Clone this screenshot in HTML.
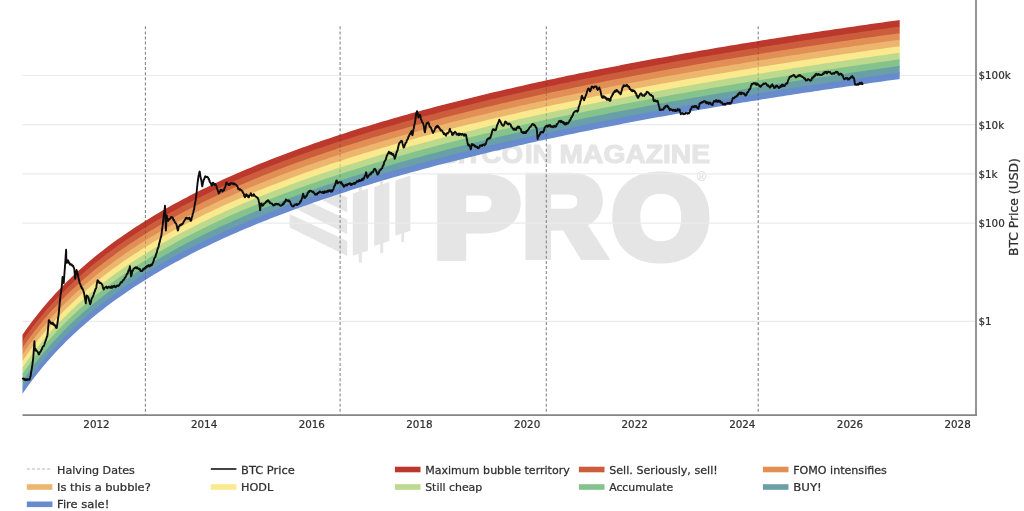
<!DOCTYPE html>
<html lang="en">
<head>
<meta charset="utf-8">
<title>Bitcoin Rainbow Price Chart</title>
<style>
html,body{margin:0;padding:0;background:#fff;width:1024px;height:511px;overflow:hidden}
svg{display:block;will-change:transform}
</style>
</head>
<body>
<svg width="1024" height="511" viewBox="0 0 1024 511">
<rect width="1024" height="511" fill="#fff"/>
<g fill="#e5e5e5" stroke="none">
<polygon points="289.7,170.6 347.2,197.6 347.2,212.4 289.7,184.0"/>
<polygon points="289.7,192.4 347.2,219.4 347.2,234.2 289.7,205.8"/>
<polygon points="289.7,214.1 347.2,241.1 347.2,255.9 289.7,227.5"/>
<polygon points="352.8,193.5 367.9,188.5 367.9,250.8 352.8,255.8"/>
<rect x="358.7" y="250.8" width="3.2" height="11.9"/>
<rect x="358.7" y="183.5" width="3.2" height="8"/>
<polygon points="374.2,186.9 389.3,181.9 389.3,241.1 374.2,246.1"/>
<rect x="380.2" y="241.1" width="3.0" height="11.9"/>
<rect x="380.2" y="176.9" width="3.0" height="8"/>
<polygon points="395.3,180.4 410.4,175.4 410.4,230.8 395.3,235.8"/>
<rect x="401.3" y="230.8" width="2.8" height="11.4"/>
</g>
<g fill="#e5e5e5" stroke="#e5e5e5" font-family="'Liberation Sans','DejaVu Sans',sans-serif" font-weight="bold" stroke-linejoin="round">
<text transform="translate(0,163.3) scale(1.06,1)" x="414.15 431.89 438.68 453.96 473.11 495.19 502.26" y="0" font-size="26.2" stroke-width="1.1">BITCOIN</text>
<text x="559.6" y="163.3" font-size="26.2" stroke-width="1.1" textLength="150.4" lengthAdjust="spacingAndGlyphs">MAGAZINE</text>
<text y="256.4" font-size="113.4" stroke-width="9.0" stroke-linejoin="miter" stroke-miterlimit="2.5"><tspan x="433.83" textLength="86.19" lengthAdjust="spacingAndGlyphs">P</tspan><tspan x="522.56" textLength="82.0" lengthAdjust="spacingAndGlyphs">R</tspan><tspan x="611.9" y="258.1" font-size="117.5" textLength="97.8" lengthAdjust="spacingAndGlyphs">O</tspan></text>
<text x="697" y="180.6" font-size="12.5" stroke-width="0.4" font-weight="normal">®</text>
</g>
<g stroke="#ebebeb" stroke-width="1.2">
<line x1="22.5" x2="976.0" y1="75.50" y2="75.50"/>
<line x1="22.5" x2="976.0" y1="124.68" y2="124.68"/>
<line x1="22.5" x2="976.0" y1="173.86" y2="173.86"/>
<line x1="22.5" x2="976.0" y1="223.04" y2="223.04"/>
<line x1="22.5" x2="976.0" y1="321.40" y2="321.40"/>
</g>
<g stroke="#888" stroke-width="1.1" stroke-dasharray="3 2.1">
<line x1="145.4" x2="145.4" y1="26.3" y2="415.0"/>
<line x1="340.1" x2="340.1" y1="26.3" y2="415.0"/>
<line x1="546.3" x2="546.3" y1="26.3" y2="415.0"/>
<line x1="758.2" x2="758.2" y1="26.3" y2="415.0"/>
</g>
<g stroke="none">
<polygon fill="#bd382c" points="22.5,334.75 26.5,329.00 30.5,323.50 34.5,318.21 38.5,313.13 42.5,308.23 46.5,303.51 50.5,298.95 54.5,294.54 58.5,290.27 62.5,286.13 66.5,282.12 70.5,278.23 74.5,274.45 78.5,270.77 82.5,267.20 86.5,263.71 90.5,260.32 94.5,257.01 98.5,253.78 102.5,250.63 106.5,247.55 110.5,244.54 114.5,241.59 118.5,238.71 122.5,235.90 126.5,233.14 130.5,230.43 134.5,227.78 138.5,225.18 142.5,222.64 146.5,220.14 150.5,217.68 154.5,215.27 158.5,212.91 162.5,210.58 166.5,208.30 170.5,206.05 174.5,203.84 178.5,201.67 182.5,199.53 186.5,197.43 190.5,195.36 194.5,193.32 198.5,191.31 202.5,189.33 206.5,187.38 210.5,185.46 214.5,183.57 218.5,181.70 222.5,179.86 226.5,178.04 230.5,176.25 234.5,174.48 238.5,172.74 242.5,171.01 246.5,169.32 250.5,167.64 254.5,165.98 258.5,164.34 262.5,162.72 266.5,161.13 270.5,159.55 274.5,157.99 278.5,156.45 282.5,154.92 286.5,153.41 290.5,151.92 294.5,150.45 298.5,148.99 302.5,147.55 306.5,146.13 310.5,144.72 314.5,143.32 318.5,141.94 322.5,140.57 326.5,139.22 330.5,137.88 334.5,136.55 338.5,135.24 342.5,133.94 346.5,132.65 350.5,131.37 354.5,130.11 358.5,128.86 362.5,127.62 366.5,126.39 370.5,125.17 374.5,123.97 378.5,122.77 382.5,121.59 386.5,120.41 390.5,119.25 394.5,118.10 398.5,116.95 402.5,115.82 406.5,114.70 410.5,113.58 414.5,112.47 418.5,111.38 422.5,110.29 426.5,109.21 430.5,108.14 434.5,107.08 438.5,106.03 442.5,104.98 446.5,103.95 450.5,102.92 454.5,101.90 458.5,100.88 462.5,99.88 466.5,98.88 470.5,97.89 474.5,96.91 478.5,95.93 482.5,94.96 486.5,94.00 490.5,93.05 494.5,92.10 498.5,91.16 502.5,90.23 506.5,89.30 510.5,88.38 514.5,87.46 518.5,86.55 522.5,85.65 526.5,84.75 530.5,83.86 534.5,82.98 538.5,82.10 542.5,81.23 546.5,80.36 550.5,79.50 554.5,78.64 558.5,77.79 562.5,76.95 566.5,76.11 570.5,75.27 574.5,74.44 578.5,73.62 582.5,72.80 586.5,71.98 590.5,71.17 594.5,70.37 598.5,69.57 602.5,68.78 606.5,67.99 610.5,67.20 614.5,66.42 618.5,65.64 622.5,64.87 626.5,64.11 630.5,63.34 634.5,62.58 638.5,61.83 642.5,61.08 646.5,60.34 650.5,59.59 654.5,58.86 658.5,58.12 662.5,57.39 666.5,56.67 670.5,55.95 674.5,55.23 678.5,54.52 682.5,53.81 686.5,53.10 690.5,52.40 694.5,51.70 698.5,51.01 702.5,50.31 706.5,49.63 710.5,48.94 714.5,48.26 718.5,47.58 722.5,46.91 726.5,46.24 730.5,45.57 734.5,44.91 738.5,44.25 742.5,43.59 746.5,42.94 750.5,42.29 754.5,41.64 758.5,41.00 762.5,40.36 766.5,39.72 770.5,39.08 774.5,38.45 778.5,37.82 782.5,37.20 786.5,36.57 790.5,35.95 794.5,35.33 798.5,34.72 802.5,34.11 806.5,33.50 810.5,32.89 814.5,32.29 818.5,31.69 822.5,31.09 826.5,30.50 830.5,29.90 834.5,29.31 838.5,28.73 842.5,28.14 846.5,27.56 850.5,26.98 854.5,26.40 858.5,25.83 862.5,25.26 866.5,24.69 870.5,24.12 874.5,23.55 878.5,22.99 882.5,22.43 886.5,21.87 890.5,21.32 894.5,20.77 898.5,20.22 899.7,20.05 899.7,27.41 898.5,27.57 894.5,28.12 890.5,28.67 886.5,29.23 882.5,29.79 878.5,30.35 874.5,30.91 870.5,31.48 866.5,32.04 862.5,32.61 858.5,33.18 854.5,33.76 850.5,34.34 846.5,34.92 842.5,35.50 838.5,36.08 834.5,36.67 830.5,37.26 826.5,37.85 822.5,38.45 818.5,39.05 814.5,39.65 810.5,40.25 806.5,40.86 802.5,41.46 798.5,42.08 794.5,42.69 790.5,43.31 786.5,43.93 782.5,44.55 778.5,45.18 774.5,45.81 770.5,46.44 766.5,47.07 762.5,47.71 758.5,48.35 754.5,49.00 750.5,49.64 746.5,50.29 742.5,50.95 738.5,51.61 734.5,52.27 730.5,52.93 726.5,53.60 722.5,54.27 718.5,54.94 714.5,55.62 710.5,56.30 706.5,56.98 702.5,57.67 698.5,58.36 694.5,59.06 690.5,59.75 686.5,60.46 682.5,61.16 678.5,61.87 674.5,62.59 670.5,63.30 666.5,64.02 662.5,64.75 658.5,65.48 654.5,66.21 650.5,66.95 646.5,67.69 642.5,68.44 638.5,69.19 634.5,69.94 630.5,70.70 626.5,71.46 622.5,72.23 618.5,73.00 614.5,73.78 610.5,74.56 606.5,75.34 602.5,76.13 598.5,76.93 594.5,77.73 590.5,78.53 586.5,79.34 582.5,80.15 578.5,80.97 574.5,81.80 570.5,82.63 566.5,83.46 562.5,84.30 558.5,85.15 554.5,86.00 550.5,86.85 546.5,87.71 542.5,88.58 538.5,89.45 534.5,90.33 530.5,91.22 526.5,92.11 522.5,93.01 518.5,93.91 514.5,94.82 510.5,95.73 506.5,96.65 502.5,97.58 498.5,98.52 494.5,99.46 490.5,100.40 486.5,101.36 482.5,102.32 478.5,103.29 474.5,104.26 470.5,105.25 466.5,106.24 462.5,107.24 458.5,108.24 454.5,109.25 450.5,110.27 446.5,111.30 442.5,112.34 438.5,113.38 434.5,114.44 430.5,115.50 426.5,116.57 422.5,117.65 418.5,118.73 414.5,119.83 410.5,120.94 406.5,122.05 402.5,123.17 398.5,124.31 394.5,125.45 390.5,126.61 386.5,127.77 382.5,128.94 378.5,130.13 374.5,131.32 370.5,132.53 366.5,133.75 362.5,134.97 358.5,136.21 354.5,137.47 350.5,138.73 346.5,140.00 342.5,141.29 338.5,142.59 334.5,143.91 330.5,145.23 326.5,146.57 322.5,147.93 318.5,149.29 314.5,150.67 310.5,152.07 306.5,153.48 302.5,154.91 298.5,156.35 294.5,157.81 290.5,159.28 286.5,160.77 282.5,162.28 278.5,163.80 274.5,165.34 270.5,166.90 266.5,168.48 262.5,170.08 258.5,171.70 254.5,173.33 250.5,174.99 246.5,176.67 242.5,178.37 238.5,180.09 234.5,181.84 230.5,183.60 226.5,185.40 222.5,187.21 218.5,189.05 214.5,190.92 210.5,192.82 206.5,194.74 202.5,196.69 198.5,198.66 194.5,200.67 190.5,202.71 186.5,204.78 182.5,206.89 178.5,209.03 174.5,211.20 170.5,213.41 166.5,215.65 162.5,217.94 158.5,220.26 154.5,222.63 150.5,225.04 146.5,227.49 142.5,229.99 138.5,232.54 134.5,235.14 130.5,237.79 126.5,240.49 122.5,243.25 118.5,246.07 114.5,248.95 110.5,251.89 106.5,254.90 102.5,257.98 98.5,261.13 94.5,264.36 90.5,267.67 86.5,271.07 82.5,274.55 78.5,278.13 74.5,281.81 70.5,285.59 66.5,289.48 62.5,293.49 58.5,297.62 54.5,301.89 50.5,306.30 46.5,310.86 42.5,315.58 38.5,320.48 34.5,325.56 30.5,330.85 26.5,336.36 22.5,342.10"/>
<polygon fill="#cc5d3c" points="22.5,341.30 26.5,335.56 30.5,330.05 34.5,324.76 38.5,319.68 42.5,314.78 46.5,310.06 50.5,305.50 54.5,301.09 58.5,296.82 62.5,292.69 66.5,288.68 70.5,284.79 74.5,281.01 78.5,277.33 82.5,273.75 86.5,270.27 90.5,266.87 94.5,263.56 98.5,260.33 102.5,257.18 106.5,254.10 110.5,251.09 114.5,248.15 118.5,245.27 122.5,242.45 126.5,239.69 130.5,236.99 134.5,234.34 138.5,231.74 142.5,229.19 146.5,226.69 150.5,224.24 154.5,221.83 158.5,219.46 162.5,217.14 166.5,214.85 170.5,212.61 174.5,210.40 178.5,208.23 182.5,206.09 186.5,203.98 190.5,201.91 194.5,199.87 198.5,197.86 202.5,195.89 206.5,193.94 210.5,192.02 214.5,190.12 218.5,188.25 222.5,186.41 226.5,184.60 230.5,182.80 234.5,181.04 238.5,179.29 242.5,177.57 246.5,175.87 250.5,174.19 254.5,172.53 258.5,170.90 262.5,169.28 266.5,167.68 270.5,166.10 274.5,164.54 278.5,163.00 282.5,161.48 286.5,159.97 290.5,158.48 294.5,157.01 298.5,155.55 302.5,154.11 306.5,152.68 310.5,151.27 314.5,149.87 318.5,148.49 322.5,147.13 326.5,145.77 330.5,144.43 334.5,143.11 338.5,141.79 342.5,140.49 346.5,139.20 350.5,137.93 354.5,136.67 358.5,135.41 362.5,134.17 366.5,132.95 370.5,131.73 374.5,130.52 378.5,129.33 382.5,128.14 386.5,126.97 390.5,125.81 394.5,124.65 398.5,123.51 402.5,122.37 406.5,121.25 410.5,120.14 414.5,119.03 418.5,117.93 422.5,116.85 426.5,115.77 430.5,114.70 434.5,113.64 438.5,112.58 442.5,111.54 446.5,110.50 450.5,109.47 454.5,108.45 458.5,107.44 462.5,106.44 466.5,105.44 470.5,104.45 474.5,103.46 478.5,102.49 482.5,101.52 486.5,100.56 490.5,99.60 494.5,98.66 498.5,97.72 502.5,96.78 506.5,95.85 510.5,94.93 514.5,94.02 518.5,93.11 522.5,92.21 526.5,91.31 530.5,90.42 534.5,89.53 538.5,88.65 542.5,87.78 546.5,86.91 550.5,86.05 554.5,85.20 558.5,84.35 562.5,83.50 566.5,82.66 570.5,81.83 574.5,81.00 578.5,80.17 582.5,79.35 586.5,78.54 590.5,77.73 594.5,76.93 598.5,76.13 602.5,75.33 606.5,74.54 610.5,73.76 614.5,72.98 618.5,72.20 622.5,71.43 626.5,70.66 630.5,69.90 634.5,69.14 638.5,68.39 642.5,67.64 646.5,66.89 650.5,66.15 654.5,65.41 658.5,64.68 662.5,63.95 666.5,63.22 670.5,62.50 674.5,61.79 678.5,61.07 682.5,60.36 686.5,59.66 690.5,58.95 694.5,58.26 698.5,57.56 702.5,56.87 706.5,56.18 710.5,55.50 714.5,54.82 718.5,54.14 722.5,53.47 726.5,52.80 730.5,52.13 734.5,51.47 738.5,50.81 742.5,50.15 746.5,49.49 750.5,48.84 754.5,48.20 758.5,47.55 762.5,46.91 766.5,46.27 770.5,45.64 774.5,45.01 778.5,44.38 782.5,43.75 786.5,43.13 790.5,42.51 794.5,41.89 798.5,41.28 802.5,40.66 806.5,40.06 810.5,39.45 814.5,38.85 818.5,38.25 822.5,37.65 826.5,37.05 830.5,36.46 834.5,35.87 838.5,35.28 842.5,34.70 846.5,34.12 850.5,33.54 854.5,32.96 858.5,32.38 862.5,31.81 866.5,31.24 870.5,30.68 874.5,30.11 878.5,29.55 882.5,28.99 886.5,28.43 890.5,27.87 894.5,27.32 898.5,26.77 899.7,26.61 899.7,33.96 898.5,34.13 894.5,34.68 890.5,35.23 886.5,35.79 882.5,36.34 878.5,36.90 874.5,37.47 870.5,38.03 866.5,38.60 862.5,39.17 858.5,39.74 854.5,40.31 850.5,40.89 846.5,41.47 842.5,42.05 838.5,42.64 834.5,43.23 830.5,43.82 826.5,44.41 822.5,45.00 818.5,45.60 814.5,46.20 810.5,46.80 806.5,47.41 802.5,48.02 798.5,48.63 794.5,49.25 790.5,49.86 786.5,50.48 782.5,51.11 778.5,51.73 774.5,52.36 770.5,52.99 766.5,53.63 762.5,54.27 758.5,54.91 754.5,55.55 750.5,56.20 746.5,56.85 742.5,57.50 738.5,58.16 734.5,58.82 730.5,59.49 726.5,60.15 722.5,60.82 718.5,61.50 714.5,62.17 710.5,62.85 706.5,63.54 702.5,64.23 698.5,64.92 694.5,65.61 690.5,66.31 686.5,67.01 682.5,67.72 678.5,68.43 674.5,69.14 670.5,69.86 666.5,70.58 662.5,71.31 658.5,72.03 654.5,72.77 650.5,73.51 646.5,74.25 642.5,74.99 638.5,75.74 634.5,76.50 630.5,77.25 626.5,78.02 622.5,78.78 618.5,79.56 614.5,80.33 610.5,81.11 606.5,81.90 602.5,82.69 598.5,83.48 594.5,84.28 590.5,85.09 586.5,85.89 582.5,86.71 578.5,87.53 574.5,88.35 570.5,89.18 566.5,90.02 562.5,90.86 558.5,91.70 554.5,92.55 550.5,93.41 546.5,94.27 542.5,95.14 538.5,96.01 534.5,96.89 530.5,97.77 526.5,98.66 522.5,99.56 518.5,100.46 514.5,101.37 510.5,102.29 506.5,103.21 502.5,104.14 498.5,105.07 494.5,106.01 490.5,106.96 486.5,107.91 482.5,108.88 478.5,109.84 474.5,110.82 470.5,111.80 466.5,112.79 462.5,113.79 458.5,114.80 454.5,115.81 450.5,116.83 446.5,117.86 442.5,118.89 438.5,119.94 434.5,120.99 430.5,122.05 426.5,123.12 422.5,124.20 418.5,125.29 414.5,126.39 410.5,127.49 406.5,128.61 402.5,129.73 398.5,130.86 394.5,132.01 390.5,133.16 386.5,134.33 382.5,135.50 378.5,136.68 374.5,137.88 370.5,139.08 366.5,140.30 362.5,141.53 358.5,142.77 354.5,144.02 350.5,145.28 346.5,146.56 342.5,147.85 338.5,149.15 334.5,150.46 330.5,151.79 326.5,153.13 322.5,154.48 318.5,155.85 314.5,157.23 310.5,158.63 306.5,160.04 302.5,161.46 298.5,162.90 294.5,164.36 290.5,165.84 286.5,167.33 282.5,168.83 278.5,170.36 274.5,171.90 270.5,173.46 266.5,175.04 262.5,176.64 258.5,178.25 254.5,179.89 250.5,181.55 246.5,183.23 242.5,184.93 238.5,186.65 234.5,188.39 230.5,190.16 226.5,191.95 222.5,193.77 218.5,195.61 214.5,197.48 210.5,199.37 206.5,201.29 202.5,203.24 198.5,205.22 194.5,207.23 190.5,209.27 186.5,211.34 182.5,213.44 178.5,215.58 174.5,217.75 170.5,219.96 166.5,222.21 162.5,224.49 158.5,226.82 154.5,229.18 150.5,231.59 146.5,234.05 142.5,236.55 138.5,239.10 134.5,241.69 130.5,244.34 126.5,247.05 122.5,249.81 118.5,252.62 114.5,255.50 110.5,258.45 106.5,261.46 102.5,264.54 98.5,267.69 94.5,270.92 90.5,274.23 86.5,277.62 82.5,281.11 78.5,284.69 74.5,288.36 70.5,292.14 66.5,296.04 62.5,300.05 58.5,304.18 54.5,308.45 50.5,312.86 46.5,317.42 42.5,322.14 38.5,327.04 34.5,332.12 30.5,337.41 26.5,342.91 22.5,348.66"/>
<polygon fill="#e28f56" points="22.5,347.86 26.5,342.11 30.5,336.61 34.5,331.32 38.5,326.24 42.5,321.34 46.5,316.62 50.5,312.06 54.5,307.65 58.5,303.38 62.5,299.25 66.5,295.24 70.5,291.34 74.5,287.56 78.5,283.89 82.5,280.31 86.5,276.82 90.5,273.43 94.5,270.12 98.5,266.89 102.5,263.74 106.5,260.66 110.5,257.65 114.5,254.70 118.5,251.82 122.5,249.01 126.5,246.25 130.5,243.54 134.5,240.89 138.5,238.30 142.5,235.75 146.5,233.25 150.5,230.79 154.5,228.38 158.5,226.02 162.5,223.69 166.5,221.41 170.5,219.16 174.5,216.95 178.5,214.78 182.5,212.64 186.5,210.54 190.5,208.47 194.5,206.43 198.5,204.42 202.5,202.44 206.5,200.49 210.5,198.57 214.5,196.68 218.5,194.81 222.5,192.97 226.5,191.15 230.5,189.36 234.5,187.59 238.5,185.85 242.5,184.13 246.5,182.43 250.5,180.75 254.5,179.09 258.5,177.45 262.5,175.84 266.5,174.24 270.5,172.66 274.5,171.10 278.5,169.56 282.5,168.03 286.5,166.53 290.5,165.04 294.5,163.56 298.5,162.10 302.5,160.66 306.5,159.24 310.5,157.83 314.5,156.43 318.5,155.05 322.5,153.68 326.5,152.33 330.5,150.99 334.5,149.66 338.5,148.35 342.5,147.05 346.5,145.76 350.5,144.48 354.5,143.22 358.5,141.97 362.5,140.73 366.5,139.50 370.5,138.28 374.5,137.08 378.5,135.88 382.5,134.70 386.5,133.53 390.5,132.36 394.5,131.21 398.5,130.06 402.5,128.93 406.5,127.81 410.5,126.69 414.5,125.59 418.5,124.49 422.5,123.40 426.5,122.32 430.5,121.25 434.5,120.19 438.5,119.14 442.5,118.09 446.5,117.06 450.5,116.03 454.5,115.01 458.5,114.00 462.5,112.99 466.5,111.99 470.5,111.00 474.5,110.02 478.5,109.04 482.5,108.08 486.5,107.11 490.5,106.16 494.5,105.21 498.5,104.27 502.5,103.34 506.5,102.41 510.5,101.49 514.5,100.57 518.5,99.66 522.5,98.76 526.5,97.86 530.5,96.97 534.5,96.09 538.5,95.21 542.5,94.34 546.5,93.47 550.5,92.61 554.5,91.75 558.5,90.90 562.5,90.06 566.5,89.22 570.5,88.38 574.5,87.55 578.5,86.73 582.5,85.91 586.5,85.09 590.5,84.29 594.5,83.48 598.5,82.68 602.5,81.89 606.5,81.10 610.5,80.31 614.5,79.53 618.5,78.76 622.5,77.98 626.5,77.22 630.5,76.45 634.5,75.70 638.5,74.94 642.5,74.19 646.5,73.45 650.5,72.71 654.5,71.97 658.5,71.23 662.5,70.51 666.5,69.78 670.5,69.06 674.5,68.34 678.5,67.63 682.5,66.92 686.5,66.21 690.5,65.51 694.5,64.81 698.5,64.12 702.5,63.43 706.5,62.74 710.5,62.05 714.5,61.37 718.5,60.70 722.5,60.02 726.5,59.35 730.5,58.69 734.5,58.02 738.5,57.36 742.5,56.70 746.5,56.05 750.5,55.40 754.5,54.75 758.5,54.11 762.5,53.47 766.5,52.83 770.5,52.19 774.5,51.56 778.5,50.93 782.5,50.31 786.5,49.68 790.5,49.06 794.5,48.45 798.5,47.83 802.5,47.22 806.5,46.61 810.5,46.00 814.5,45.40 818.5,44.80 822.5,44.20 826.5,43.61 830.5,43.02 834.5,42.43 838.5,41.84 842.5,41.25 846.5,40.67 850.5,40.09 854.5,39.51 858.5,38.94 862.5,38.37 866.5,37.80 870.5,37.23 874.5,36.67 878.5,36.10 882.5,35.54 886.5,34.99 890.5,34.43 894.5,33.88 898.5,33.33 899.7,33.16 899.7,40.52 898.5,40.68 894.5,41.23 890.5,41.79 886.5,42.34 882.5,42.90 878.5,43.46 874.5,44.02 870.5,44.59 866.5,45.15 862.5,45.72 858.5,46.30 854.5,46.87 850.5,47.45 846.5,48.03 842.5,48.61 838.5,49.19 834.5,49.78 830.5,50.37 826.5,50.96 822.5,51.56 818.5,52.16 814.5,52.76 810.5,53.36 806.5,53.97 802.5,54.58 798.5,55.19 794.5,55.80 790.5,56.42 786.5,57.04 782.5,57.66 778.5,58.29 774.5,58.92 770.5,59.55 766.5,60.18 762.5,60.82 758.5,61.46 754.5,62.11 750.5,62.76 746.5,63.41 742.5,64.06 738.5,64.72 734.5,65.38 730.5,66.04 726.5,66.71 722.5,67.38 718.5,68.05 714.5,68.73 710.5,69.41 706.5,70.09 702.5,70.78 698.5,71.47 694.5,72.17 690.5,72.87 686.5,73.57 682.5,74.27 678.5,74.98 674.5,75.70 670.5,76.41 666.5,77.14 662.5,77.86 658.5,78.59 654.5,79.32 650.5,80.06 646.5,80.80 642.5,81.55 638.5,82.30 634.5,83.05 630.5,83.81 626.5,84.57 622.5,85.34 618.5,86.11 614.5,86.89 610.5,87.67 606.5,88.45 602.5,89.24 598.5,90.04 594.5,90.84 590.5,91.64 586.5,92.45 582.5,93.26 578.5,94.08 574.5,94.91 570.5,95.74 566.5,96.57 562.5,97.41 558.5,98.26 554.5,99.11 550.5,99.96 546.5,100.83 542.5,101.69 538.5,102.57 534.5,103.44 530.5,104.33 526.5,105.22 522.5,106.12 518.5,107.02 514.5,107.93 510.5,108.84 506.5,109.76 502.5,110.69 498.5,111.63 494.5,112.57 490.5,113.52 486.5,114.47 482.5,115.43 478.5,116.40 474.5,117.38 470.5,118.36 466.5,119.35 462.5,120.35 458.5,121.35 454.5,122.36 450.5,123.38 446.5,124.41 442.5,125.45 438.5,126.49 434.5,127.55 430.5,128.61 426.5,129.68 422.5,130.76 418.5,131.84 414.5,132.94 410.5,134.05 406.5,135.16 402.5,136.29 398.5,137.42 394.5,138.56 390.5,139.72 386.5,140.88 382.5,142.05 378.5,143.24 374.5,144.43 370.5,145.64 366.5,146.86 362.5,148.09 358.5,149.33 354.5,150.58 350.5,151.84 346.5,153.12 342.5,154.40 338.5,155.70 334.5,157.02 330.5,158.34 326.5,159.68 322.5,161.04 318.5,162.40 314.5,163.79 310.5,165.18 306.5,166.59 302.5,168.02 298.5,169.46 294.5,170.92 290.5,172.39 286.5,173.88 282.5,175.39 278.5,176.91 274.5,178.45 270.5,180.02 266.5,181.59 262.5,183.19 258.5,184.81 254.5,186.45 250.5,188.10 246.5,189.78 242.5,191.48 238.5,193.20 234.5,194.95 230.5,196.72 226.5,198.51 222.5,200.32 218.5,202.17 214.5,204.03 210.5,205.93 206.5,207.85 202.5,209.80 198.5,211.78 194.5,213.78 190.5,215.82 186.5,217.89 182.5,220.00 178.5,222.14 174.5,224.31 170.5,226.52 166.5,228.76 162.5,231.05 158.5,233.37 154.5,235.74 150.5,238.15 146.5,240.60 142.5,243.10 138.5,245.65 134.5,248.25 130.5,250.90 126.5,253.60 122.5,256.36 118.5,259.18 114.5,262.06 110.5,265.00 106.5,268.01 102.5,271.09 98.5,274.25 94.5,277.48 90.5,280.79 86.5,284.18 82.5,287.66 78.5,291.24 74.5,294.92 70.5,298.70 66.5,302.59 62.5,306.60 58.5,310.74 54.5,315.00 50.5,319.41 46.5,323.97 42.5,328.69 38.5,333.59 34.5,338.68 30.5,343.96 26.5,349.47 22.5,355.21"/>
<polygon fill="#edb66e" points="22.5,354.41 26.5,348.67 30.5,343.16 34.5,337.88 38.5,332.79 42.5,327.89 46.5,323.17 50.5,318.61 54.5,314.20 58.5,309.94 62.5,305.80 66.5,301.79 70.5,297.90 74.5,294.12 78.5,290.44 82.5,286.86 86.5,283.38 90.5,279.99 94.5,276.68 98.5,273.45 102.5,270.29 106.5,267.21 110.5,264.20 114.5,261.26 118.5,258.38 122.5,255.56 126.5,252.80 130.5,250.10 134.5,247.45 138.5,244.85 142.5,242.30 146.5,239.80 150.5,237.35 154.5,234.94 158.5,232.57 162.5,230.25 166.5,227.96 170.5,225.72 174.5,223.51 178.5,221.34 182.5,219.20 186.5,217.09 190.5,215.02 194.5,212.98 198.5,210.98 202.5,209.00 206.5,207.05 210.5,205.13 214.5,203.23 218.5,201.37 222.5,199.52 226.5,197.71 230.5,195.92 234.5,194.15 238.5,192.40 242.5,190.68 246.5,188.98 250.5,187.30 254.5,185.65 258.5,184.01 262.5,182.39 266.5,180.79 270.5,179.22 274.5,177.65 278.5,176.11 282.5,174.59 286.5,173.08 290.5,171.59 294.5,170.12 298.5,168.66 302.5,167.22 306.5,165.79 310.5,164.38 314.5,162.99 318.5,161.60 322.5,160.24 326.5,158.88 330.5,157.54 334.5,156.22 338.5,154.90 342.5,153.60 346.5,152.32 350.5,151.04 354.5,149.78 358.5,148.53 362.5,147.29 366.5,146.06 370.5,144.84 374.5,143.63 378.5,142.44 382.5,141.25 386.5,140.08 390.5,138.92 394.5,137.76 398.5,136.62 402.5,135.49 406.5,134.36 410.5,133.25 414.5,132.14 418.5,131.04 422.5,129.96 426.5,128.88 430.5,127.81 434.5,126.75 438.5,125.69 442.5,124.65 446.5,123.61 450.5,122.58 454.5,121.56 458.5,120.55 462.5,119.55 466.5,118.55 470.5,117.56 474.5,116.58 478.5,115.60 482.5,114.63 486.5,113.67 490.5,112.72 494.5,111.77 498.5,110.83 502.5,109.89 506.5,108.96 510.5,108.04 514.5,107.13 518.5,106.22 522.5,105.32 526.5,104.42 530.5,103.53 534.5,102.64 538.5,101.77 542.5,100.89 546.5,100.03 550.5,99.16 554.5,98.31 558.5,97.46 562.5,96.61 566.5,95.77 570.5,94.94 574.5,94.11 578.5,93.28 582.5,92.46 586.5,91.65 590.5,90.84 594.5,90.04 598.5,89.24 602.5,88.44 606.5,87.65 610.5,86.87 614.5,86.09 618.5,85.31 622.5,84.54 626.5,83.77 630.5,83.01 634.5,82.25 638.5,81.50 642.5,80.75 646.5,80.00 650.5,79.26 654.5,78.52 658.5,77.79 662.5,77.06 666.5,76.34 670.5,75.61 674.5,74.90 678.5,74.18 682.5,73.47 686.5,72.77 690.5,72.07 694.5,71.37 698.5,70.67 702.5,69.98 706.5,69.29 710.5,68.61 714.5,67.93 718.5,67.25 722.5,66.58 726.5,65.91 730.5,65.24 734.5,64.58 738.5,63.92 742.5,63.26 746.5,62.61 750.5,61.96 754.5,61.31 758.5,60.66 762.5,60.02 766.5,59.38 770.5,58.75 774.5,58.12 778.5,57.49 782.5,56.86 786.5,56.24 790.5,55.62 794.5,55.00 798.5,54.39 802.5,53.78 806.5,53.17 810.5,52.56 814.5,51.96 818.5,51.36 822.5,50.76 826.5,50.16 830.5,49.57 834.5,48.98 838.5,48.39 842.5,47.81 846.5,47.23 850.5,46.65 854.5,46.07 858.5,45.50 862.5,44.92 866.5,44.35 870.5,43.79 874.5,43.22 878.5,42.66 882.5,42.10 886.5,41.54 890.5,40.99 894.5,40.43 898.5,39.88 899.7,39.72 899.7,47.07 898.5,47.24 894.5,47.79 890.5,48.34 886.5,48.90 882.5,49.45 878.5,50.01 874.5,50.58 870.5,51.14 866.5,51.71 862.5,52.28 858.5,52.85 854.5,53.43 850.5,54.00 846.5,54.58 842.5,55.16 838.5,55.75 834.5,56.34 830.5,56.93 826.5,57.52 822.5,58.11 818.5,58.71 814.5,59.31 810.5,59.92 806.5,60.52 802.5,61.13 798.5,61.74 794.5,62.36 790.5,62.97 786.5,63.59 782.5,64.22 778.5,64.84 774.5,65.47 770.5,66.10 766.5,66.74 762.5,67.38 758.5,68.02 754.5,68.66 750.5,69.31 746.5,69.96 742.5,70.62 738.5,71.27 734.5,71.93 730.5,72.60 726.5,73.26 722.5,73.93 718.5,74.61 714.5,75.28 710.5,75.96 706.5,76.65 702.5,77.34 698.5,78.03 694.5,78.72 690.5,79.42 686.5,80.12 682.5,80.83 678.5,81.54 674.5,82.25 670.5,82.97 666.5,83.69 662.5,84.42 658.5,85.15 654.5,85.88 650.5,86.62 646.5,87.36 642.5,88.10 638.5,88.85 634.5,89.61 630.5,90.37 626.5,91.13 622.5,91.90 618.5,92.67 614.5,93.44 610.5,94.22 606.5,95.01 602.5,95.80 598.5,96.59 594.5,97.39 590.5,98.20 586.5,99.01 582.5,99.82 578.5,100.64 574.5,101.46 570.5,102.29 566.5,103.13 562.5,103.97 558.5,104.81 554.5,105.66 550.5,106.52 546.5,107.38 542.5,108.25 538.5,109.12 534.5,110.00 530.5,110.88 526.5,111.78 522.5,112.67 518.5,113.57 514.5,114.48 510.5,115.40 506.5,116.32 502.5,117.25 498.5,118.18 494.5,119.12 490.5,120.07 486.5,121.03 482.5,121.99 478.5,122.96 474.5,123.93 470.5,124.91 466.5,125.90 462.5,126.90 458.5,127.91 454.5,128.92 450.5,129.94 446.5,130.97 442.5,132.01 438.5,133.05 434.5,134.10 430.5,135.16 426.5,136.23 422.5,137.31 418.5,138.40 414.5,139.50 410.5,140.60 406.5,141.72 402.5,142.84 398.5,143.98 394.5,145.12 390.5,146.27 386.5,147.44 382.5,148.61 378.5,149.79 374.5,150.99 370.5,152.20 366.5,153.41 362.5,154.64 358.5,155.88 354.5,157.13 350.5,158.40 346.5,159.67 342.5,160.96 338.5,162.26 334.5,163.57 330.5,164.90 326.5,166.24 322.5,167.59 318.5,168.96 314.5,170.34 310.5,171.74 306.5,173.15 302.5,174.57 298.5,176.02 294.5,177.47 290.5,178.95 286.5,180.44 282.5,181.94 278.5,183.47 274.5,185.01 270.5,186.57 266.5,188.15 262.5,189.75 258.5,191.36 254.5,193.00 250.5,194.66 246.5,196.34 242.5,198.04 238.5,199.76 234.5,201.50 230.5,203.27 226.5,205.06 222.5,206.88 218.5,208.72 214.5,210.59 210.5,212.48 206.5,214.40 202.5,216.35 198.5,218.33 194.5,220.34 190.5,222.38 186.5,224.45 182.5,226.55 178.5,228.69 174.5,230.86 170.5,233.07 166.5,235.32 162.5,237.60 158.5,239.93 154.5,242.30 150.5,244.71 146.5,247.16 142.5,249.66 138.5,252.21 134.5,254.80 130.5,257.45 126.5,260.16 122.5,262.92 118.5,265.74 114.5,268.62 110.5,271.56 106.5,274.57 102.5,277.65 98.5,280.80 94.5,284.03 90.5,287.34 86.5,290.74 82.5,294.22 78.5,297.80 74.5,301.47 70.5,305.25 66.5,309.15 62.5,313.16 58.5,317.29 54.5,321.56 50.5,325.97 46.5,330.53 42.5,335.25 38.5,340.15 34.5,345.23 30.5,350.52 26.5,356.02 22.5,361.77"/>
<polygon fill="#fbe98e" points="22.5,360.97 26.5,355.22 30.5,349.72 34.5,344.43 38.5,339.35 42.5,334.45 46.5,329.73 50.5,325.17 54.5,320.76 58.5,316.49 62.5,312.36 66.5,308.35 70.5,304.45 74.5,300.67 78.5,297.00 82.5,293.42 86.5,289.94 90.5,286.54 94.5,283.23 98.5,280.00 102.5,276.85 106.5,273.77 110.5,270.76 114.5,267.82 118.5,264.94 122.5,262.12 126.5,259.36 130.5,256.65 134.5,254.00 138.5,251.41 142.5,248.86 146.5,246.36 150.5,243.91 154.5,241.50 158.5,239.13 162.5,236.80 166.5,234.52 170.5,232.27 174.5,230.06 178.5,227.89 182.5,225.75 186.5,223.65 190.5,221.58 194.5,219.54 198.5,217.53 202.5,215.55 206.5,213.60 210.5,211.68 214.5,209.79 218.5,207.92 222.5,206.08 226.5,204.26 230.5,202.47 234.5,200.70 238.5,198.96 242.5,197.24 246.5,195.54 250.5,193.86 254.5,192.20 258.5,190.56 262.5,188.95 266.5,187.35 270.5,185.77 274.5,184.21 278.5,182.67 282.5,181.14 286.5,179.64 290.5,178.15 294.5,176.67 298.5,175.22 302.5,173.77 306.5,172.35 310.5,170.94 314.5,169.54 318.5,168.16 322.5,166.79 326.5,165.44 330.5,164.10 334.5,162.77 338.5,161.46 342.5,160.16 346.5,158.87 350.5,157.60 354.5,156.33 358.5,155.08 362.5,153.84 366.5,152.61 370.5,151.40 374.5,150.19 378.5,148.99 382.5,147.81 386.5,146.64 390.5,145.47 394.5,144.32 398.5,143.18 402.5,142.04 406.5,140.92 410.5,139.80 414.5,138.70 418.5,137.60 422.5,136.51 426.5,135.43 430.5,134.36 434.5,133.30 438.5,132.25 442.5,131.21 446.5,130.17 450.5,129.14 454.5,128.12 458.5,127.11 462.5,126.10 466.5,125.10 470.5,124.11 474.5,123.13 478.5,122.16 482.5,121.19 486.5,120.23 490.5,119.27 494.5,118.32 498.5,117.38 502.5,116.45 506.5,115.52 510.5,114.60 514.5,113.68 518.5,112.77 522.5,111.87 526.5,110.98 530.5,110.08 534.5,109.20 538.5,108.32 542.5,107.45 546.5,106.58 550.5,105.72 554.5,104.86 558.5,104.01 562.5,103.17 566.5,102.33 570.5,101.49 574.5,100.66 578.5,99.84 582.5,99.02 586.5,98.21 590.5,97.40 594.5,96.59 598.5,95.79 602.5,95.00 606.5,94.21 610.5,93.42 614.5,92.64 618.5,91.87 622.5,91.10 626.5,90.33 630.5,89.57 634.5,88.81 638.5,88.05 642.5,87.30 646.5,86.56 650.5,85.82 654.5,85.08 658.5,84.35 662.5,83.62 666.5,82.89 670.5,82.17 674.5,81.45 678.5,80.74 682.5,80.03 686.5,79.32 690.5,78.62 694.5,77.92 698.5,77.23 702.5,76.54 706.5,75.85 710.5,75.16 714.5,74.48 718.5,73.81 722.5,73.13 726.5,72.46 730.5,71.80 734.5,71.13 738.5,70.47 742.5,69.82 746.5,69.16 750.5,68.51 754.5,67.86 758.5,67.22 762.5,66.58 766.5,65.94 770.5,65.30 774.5,64.67 778.5,64.04 782.5,63.42 786.5,62.79 790.5,62.17 794.5,61.56 798.5,60.94 802.5,60.33 806.5,59.72 810.5,59.12 814.5,58.51 818.5,57.91 822.5,57.31 826.5,56.72 830.5,56.13 834.5,55.54 838.5,54.95 842.5,54.36 846.5,53.78 850.5,53.20 854.5,52.63 858.5,52.05 862.5,51.48 866.5,50.91 870.5,50.34 874.5,49.78 878.5,49.21 882.5,48.65 886.5,48.10 890.5,47.54 894.5,46.99 898.5,46.44 899.7,46.27 899.7,53.63 898.5,53.79 894.5,54.34 890.5,54.90 886.5,55.45 882.5,56.01 878.5,56.57 874.5,57.13 870.5,57.70 866.5,58.26 862.5,58.83 858.5,59.41 854.5,59.98 850.5,60.56 846.5,61.14 842.5,61.72 838.5,62.30 834.5,62.89 830.5,63.48 826.5,64.07 822.5,64.67 818.5,65.27 814.5,65.87 810.5,66.47 806.5,67.08 802.5,67.69 798.5,68.30 794.5,68.91 790.5,69.53 786.5,70.15 782.5,70.77 778.5,71.40 774.5,72.03 770.5,72.66 766.5,73.30 762.5,73.93 758.5,74.57 754.5,75.22 750.5,75.87 746.5,76.52 742.5,77.17 738.5,77.83 734.5,78.49 730.5,79.15 726.5,79.82 722.5,80.49 718.5,81.16 714.5,81.84 710.5,82.52 706.5,83.20 702.5,83.89 698.5,84.58 694.5,85.28 690.5,85.98 686.5,86.68 682.5,87.38 678.5,88.09 674.5,88.81 670.5,89.53 666.5,90.25 662.5,90.97 658.5,91.70 654.5,92.43 650.5,93.17 646.5,93.91 642.5,94.66 638.5,95.41 634.5,96.16 630.5,96.92 626.5,97.68 622.5,98.45 618.5,99.22 614.5,100.00 610.5,100.78 606.5,101.56 602.5,102.35 598.5,103.15 594.5,103.95 590.5,104.75 586.5,105.56 582.5,106.38 578.5,107.19 574.5,108.02 570.5,108.85 566.5,109.68 562.5,110.52 558.5,111.37 554.5,112.22 550.5,113.07 546.5,113.94 542.5,114.80 538.5,115.68 534.5,116.56 530.5,117.44 526.5,118.33 522.5,119.23 518.5,120.13 514.5,121.04 510.5,121.95 506.5,122.88 502.5,123.80 498.5,124.74 494.5,125.68 490.5,126.63 486.5,127.58 482.5,128.54 478.5,129.51 474.5,130.49 470.5,131.47 466.5,132.46 462.5,133.46 458.5,134.46 454.5,135.48 450.5,136.50 446.5,137.52 442.5,138.56 438.5,139.61 434.5,140.66 430.5,141.72 426.5,142.79 422.5,143.87 418.5,144.96 414.5,146.05 410.5,147.16 406.5,148.27 402.5,149.40 398.5,150.53 394.5,151.67 390.5,152.83 386.5,153.99 382.5,155.17 378.5,156.35 374.5,157.55 370.5,158.75 366.5,159.97 362.5,161.20 358.5,162.44 354.5,163.69 350.5,164.95 346.5,166.23 342.5,167.51 338.5,168.81 334.5,170.13 330.5,171.45 326.5,172.79 322.5,174.15 318.5,175.52 314.5,176.90 310.5,178.29 306.5,179.70 302.5,181.13 298.5,182.57 294.5,184.03 290.5,185.50 286.5,186.99 282.5,188.50 278.5,190.02 274.5,191.57 270.5,193.13 266.5,194.70 262.5,196.30 258.5,197.92 254.5,199.56 250.5,201.21 246.5,202.89 242.5,204.59 238.5,206.31 234.5,208.06 230.5,209.83 226.5,211.62 222.5,213.44 218.5,215.28 214.5,217.14 210.5,219.04 206.5,220.96 202.5,222.91 198.5,224.89 194.5,226.90 190.5,228.93 186.5,231.01 182.5,233.11 178.5,235.25 174.5,237.42 170.5,239.63 166.5,241.88 162.5,244.16 158.5,246.49 154.5,248.85 150.5,251.26 146.5,253.71 142.5,256.21 138.5,258.76 134.5,261.36 130.5,264.01 126.5,266.71 122.5,269.47 118.5,272.29 114.5,275.17 110.5,278.11 106.5,281.12 102.5,284.20 98.5,287.36 94.5,290.59 90.5,293.90 86.5,297.29 82.5,300.77 78.5,304.35 74.5,308.03 70.5,311.81 66.5,315.70 62.5,319.71 58.5,323.85 54.5,328.11 50.5,332.52 46.5,337.08 42.5,341.81 38.5,346.70 34.5,351.79 30.5,357.07 26.5,362.58 22.5,368.32"/>
<polygon fill="#bcd98e" points="22.5,367.52 26.5,361.78 30.5,356.27 34.5,350.99 38.5,345.90 42.5,341.01 46.5,336.28 50.5,331.72 54.5,327.31 58.5,323.05 62.5,318.91 66.5,314.90 70.5,311.01 74.5,307.23 78.5,303.55 82.5,299.97 86.5,296.49 90.5,293.10 94.5,289.79 98.5,286.56 102.5,283.40 106.5,280.32 110.5,277.31 114.5,274.37 118.5,271.49 122.5,268.67 126.5,265.91 130.5,263.21 134.5,260.56 138.5,257.96 142.5,255.41 146.5,252.91 150.5,250.46 154.5,248.05 158.5,245.69 162.5,243.36 166.5,241.08 170.5,238.83 174.5,236.62 178.5,234.45 182.5,232.31 186.5,230.21 190.5,228.13 194.5,226.10 198.5,224.09 202.5,222.11 206.5,220.16 210.5,218.24 214.5,216.34 218.5,214.48 222.5,212.64 226.5,210.82 230.5,209.03 234.5,207.26 238.5,205.51 242.5,203.79 246.5,202.09 250.5,200.41 254.5,198.76 258.5,197.12 262.5,195.50 266.5,193.90 270.5,192.33 274.5,190.77 278.5,189.22 282.5,187.70 286.5,186.19 290.5,184.70 294.5,183.23 298.5,181.77 302.5,180.33 306.5,178.90 310.5,177.49 314.5,176.10 318.5,174.72 322.5,173.35 326.5,171.99 330.5,170.65 334.5,169.33 338.5,168.01 342.5,166.71 346.5,165.43 350.5,164.15 354.5,162.89 358.5,161.64 362.5,160.40 366.5,159.17 370.5,157.95 374.5,156.75 378.5,155.55 382.5,154.37 386.5,153.19 390.5,152.03 394.5,150.87 398.5,149.73 402.5,148.60 406.5,147.47 410.5,146.36 414.5,145.25 418.5,144.16 422.5,143.07 426.5,141.99 430.5,140.92 434.5,139.86 438.5,138.81 442.5,137.76 446.5,136.72 450.5,135.70 454.5,134.68 458.5,133.66 462.5,132.66 466.5,131.66 470.5,130.67 474.5,129.69 478.5,128.71 482.5,127.74 486.5,126.78 490.5,125.83 494.5,124.88 498.5,123.94 502.5,123.00 506.5,122.08 510.5,121.15 514.5,120.24 518.5,119.33 522.5,118.43 526.5,117.53 530.5,116.64 534.5,115.76 538.5,114.88 542.5,114.00 546.5,113.14 550.5,112.27 554.5,111.42 558.5,110.57 562.5,109.72 566.5,108.88 570.5,108.05 574.5,107.22 578.5,106.39 582.5,105.58 586.5,104.76 590.5,103.95 594.5,103.15 598.5,102.35 602.5,101.55 606.5,100.76 610.5,99.98 614.5,99.20 618.5,98.42 622.5,97.65 626.5,96.88 630.5,96.12 634.5,95.36 638.5,94.61 642.5,93.86 646.5,93.11 650.5,92.37 654.5,91.63 658.5,90.90 662.5,90.17 666.5,89.45 670.5,88.73 674.5,88.01 678.5,87.29 682.5,86.58 686.5,85.88 690.5,85.18 694.5,84.48 698.5,83.78 702.5,83.09 706.5,82.40 710.5,81.72 714.5,81.04 718.5,80.36 722.5,79.69 726.5,79.02 730.5,78.35 734.5,77.69 738.5,77.03 742.5,76.37 746.5,75.72 750.5,75.07 754.5,74.42 758.5,73.77 762.5,73.13 766.5,72.50 770.5,71.86 774.5,71.23 778.5,70.60 782.5,69.97 786.5,69.35 790.5,68.73 794.5,68.11 798.5,67.50 802.5,66.89 806.5,66.28 810.5,65.67 814.5,65.07 818.5,64.47 822.5,63.87 826.5,63.27 830.5,62.68 834.5,62.09 838.5,61.50 842.5,60.92 846.5,60.34 850.5,59.76 854.5,59.18 858.5,58.61 862.5,58.03 866.5,57.46 870.5,56.90 874.5,56.33 878.5,55.77 882.5,55.21 886.5,54.65 890.5,54.10 894.5,53.54 898.5,52.99 899.7,52.83 899.7,60.18 898.5,60.35 894.5,60.90 890.5,61.45 886.5,62.01 882.5,62.57 878.5,63.13 874.5,63.69 870.5,64.25 866.5,64.82 862.5,65.39 858.5,65.96 854.5,66.54 850.5,67.11 846.5,67.69 842.5,68.28 838.5,68.86 834.5,69.45 830.5,70.04 826.5,70.63 822.5,71.23 818.5,71.82 814.5,72.42 810.5,73.03 806.5,73.63 802.5,74.24 798.5,74.85 794.5,75.47 790.5,76.09 786.5,76.71 782.5,77.33 778.5,77.95 774.5,78.58 770.5,79.22 766.5,79.85 762.5,80.49 758.5,81.13 754.5,81.77 750.5,82.42 746.5,83.07 742.5,83.73 738.5,84.38 734.5,85.04 730.5,85.71 726.5,86.37 722.5,87.04 718.5,87.72 714.5,88.40 710.5,89.08 706.5,89.76 702.5,90.45 698.5,91.14 694.5,91.83 690.5,92.53 686.5,93.23 682.5,93.94 678.5,94.65 674.5,95.36 670.5,96.08 666.5,96.80 662.5,97.53 658.5,98.26 654.5,98.99 650.5,99.73 646.5,100.47 642.5,101.21 638.5,101.96 634.5,102.72 630.5,103.48 626.5,104.24 622.5,105.01 618.5,105.78 614.5,106.55 610.5,107.33 606.5,108.12 602.5,108.91 598.5,109.70 594.5,110.50 590.5,111.31 586.5,112.12 582.5,112.93 578.5,113.75 574.5,114.57 570.5,115.40 566.5,116.24 562.5,117.08 558.5,117.92 554.5,118.77 550.5,119.63 546.5,120.49 542.5,121.36 538.5,122.23 534.5,123.11 530.5,124.00 526.5,124.89 522.5,125.78 518.5,126.69 514.5,127.59 510.5,128.51 506.5,129.43 502.5,130.36 498.5,131.29 494.5,132.23 490.5,133.18 486.5,134.14 482.5,135.10 478.5,136.07 474.5,137.04 470.5,138.03 466.5,139.02 462.5,140.01 458.5,141.02 454.5,142.03 450.5,143.05 446.5,144.08 442.5,145.12 438.5,146.16 434.5,147.21 430.5,148.28 426.5,149.35 422.5,150.42 418.5,151.51 414.5,152.61 410.5,153.71 406.5,154.83 402.5,155.95 398.5,157.09 394.5,158.23 390.5,159.38 386.5,160.55 382.5,161.72 378.5,162.91 374.5,164.10 370.5,165.31 366.5,166.52 362.5,167.75 358.5,168.99 354.5,170.24 350.5,171.51 346.5,172.78 342.5,174.07 338.5,175.37 334.5,176.68 330.5,178.01 326.5,179.35 322.5,180.70 318.5,182.07 314.5,183.45 310.5,184.85 306.5,186.26 302.5,187.69 298.5,189.13 294.5,190.58 290.5,192.06 286.5,193.55 282.5,195.06 278.5,196.58 274.5,198.12 270.5,199.68 266.5,201.26 262.5,202.86 258.5,204.48 254.5,206.11 250.5,207.77 246.5,209.45 242.5,211.15 238.5,212.87 234.5,214.61 230.5,216.38 226.5,218.17 222.5,219.99 218.5,221.83 214.5,223.70 210.5,225.59 206.5,227.51 202.5,229.46 198.5,231.44 194.5,233.45 190.5,235.49 186.5,237.56 182.5,239.67 178.5,241.80 174.5,243.98 170.5,246.18 166.5,248.43 162.5,250.72 158.5,253.04 154.5,255.41 150.5,257.82 146.5,260.27 142.5,262.77 138.5,265.32 134.5,267.92 130.5,270.57 126.5,273.27 122.5,276.03 118.5,278.85 114.5,281.73 110.5,284.67 106.5,287.68 102.5,290.76 98.5,293.91 94.5,297.14 90.5,300.45 86.5,303.85 82.5,307.33 78.5,310.91 74.5,314.58 70.5,318.37 66.5,322.26 62.5,326.27 58.5,330.40 54.5,334.67 50.5,339.08 46.5,343.64 42.5,348.36 38.5,353.26 34.5,358.34 30.5,363.63 26.5,369.14 22.5,374.88"/>
<polygon fill="#84c38b" points="22.5,374.08 26.5,368.34 30.5,362.83 34.5,357.54 38.5,352.46 42.5,347.56 46.5,342.84 50.5,338.28 54.5,333.87 58.5,329.60 62.5,325.47 66.5,321.46 70.5,317.57 74.5,313.78 78.5,310.11 82.5,306.53 86.5,303.05 90.5,299.65 94.5,296.34 98.5,293.11 102.5,289.96 106.5,286.88 110.5,283.87 114.5,280.93 118.5,278.05 122.5,275.23 126.5,272.47 130.5,269.77 134.5,267.12 138.5,264.52 142.5,261.97 146.5,259.47 150.5,257.02 154.5,254.61 158.5,252.24 162.5,249.92 166.5,247.63 170.5,245.38 174.5,243.18 178.5,241.00 182.5,238.87 186.5,236.76 190.5,234.69 194.5,232.65 198.5,230.64 202.5,228.66 206.5,226.71 210.5,224.79 214.5,222.90 218.5,221.03 222.5,219.19 226.5,217.37 230.5,215.58 234.5,213.81 238.5,212.07 242.5,210.35 246.5,208.65 250.5,206.97 254.5,205.31 258.5,203.68 262.5,202.06 266.5,200.46 270.5,198.88 274.5,197.32 278.5,195.78 282.5,194.26 286.5,192.75 290.5,191.26 294.5,189.78 298.5,188.33 302.5,186.89 306.5,185.46 310.5,184.05 314.5,182.65 318.5,181.27 322.5,179.90 326.5,178.55 330.5,177.21 334.5,175.88 338.5,174.57 342.5,173.27 346.5,171.98 350.5,170.71 354.5,169.44 358.5,168.19 362.5,166.95 366.5,165.72 370.5,164.51 374.5,163.30 378.5,162.11 382.5,160.92 386.5,159.75 390.5,158.58 394.5,157.43 398.5,156.29 402.5,155.15 406.5,154.03 410.5,152.91 414.5,151.81 418.5,150.71 422.5,149.62 426.5,148.55 430.5,147.48 434.5,146.41 438.5,145.36 442.5,144.32 446.5,143.28 450.5,142.25 454.5,141.23 458.5,140.22 462.5,139.21 466.5,138.22 470.5,137.23 474.5,136.24 478.5,135.27 482.5,134.30 486.5,133.34 490.5,132.38 494.5,131.43 498.5,130.49 502.5,129.56 506.5,128.63 510.5,127.71 514.5,126.79 518.5,125.89 522.5,124.98 526.5,124.09 530.5,123.20 534.5,122.31 538.5,121.43 542.5,120.56 546.5,119.69 550.5,118.83 554.5,117.97 558.5,117.12 562.5,116.28 566.5,115.44 570.5,114.60 574.5,113.77 578.5,112.95 582.5,112.13 586.5,111.32 590.5,110.51 594.5,109.70 598.5,108.90 602.5,108.11 606.5,107.32 610.5,106.53 614.5,105.75 618.5,104.98 622.5,104.21 626.5,103.44 630.5,102.68 634.5,101.92 638.5,101.16 642.5,100.41 646.5,99.67 650.5,98.93 654.5,98.19 658.5,97.46 662.5,96.73 666.5,96.00 670.5,95.28 674.5,94.56 678.5,93.85 682.5,93.14 686.5,92.43 690.5,91.73 694.5,91.03 698.5,90.34 702.5,89.65 706.5,88.96 710.5,88.28 714.5,87.60 718.5,86.92 722.5,86.24 726.5,85.57 730.5,84.91 734.5,84.24 738.5,83.58 742.5,82.93 746.5,82.27 750.5,81.62 754.5,80.97 758.5,80.33 762.5,79.69 766.5,79.05 770.5,78.42 774.5,77.78 778.5,77.15 782.5,76.53 786.5,75.91 790.5,75.29 794.5,74.67 798.5,74.05 802.5,73.44 806.5,72.83 810.5,72.23 814.5,71.62 818.5,71.02 822.5,70.43 826.5,69.83 830.5,69.24 834.5,68.65 838.5,68.06 842.5,67.48 846.5,66.89 850.5,66.31 854.5,65.74 858.5,65.16 862.5,64.59 866.5,64.02 870.5,63.45 874.5,62.89 878.5,62.33 882.5,61.77 886.5,61.21 890.5,60.65 894.5,60.10 898.5,59.55 899.7,59.38 899.7,66.74 898.5,66.90 894.5,67.46 890.5,68.01 886.5,68.56 882.5,69.12 878.5,69.68 874.5,70.24 870.5,70.81 866.5,71.38 862.5,71.95 858.5,72.52 854.5,73.09 850.5,73.67 846.5,74.25 842.5,74.83 838.5,75.42 834.5,76.00 830.5,76.59 826.5,77.19 822.5,77.78 818.5,78.38 814.5,78.98 810.5,79.58 806.5,80.19 802.5,80.80 798.5,81.41 794.5,82.02 790.5,82.64 786.5,83.26 782.5,83.88 778.5,84.51 774.5,85.14 770.5,85.77 766.5,86.41 762.5,87.04 758.5,87.69 754.5,88.33 750.5,88.98 746.5,89.63 742.5,90.28 738.5,90.94 734.5,91.60 730.5,92.26 726.5,92.93 722.5,93.60 718.5,94.27 714.5,94.95 710.5,95.63 706.5,96.32 702.5,97.00 698.5,97.69 694.5,98.39 690.5,99.09 686.5,99.79 682.5,100.50 678.5,101.21 674.5,101.92 670.5,102.64 666.5,103.36 662.5,104.08 658.5,104.81 654.5,105.55 650.5,106.28 646.5,107.02 642.5,107.77 638.5,108.52 634.5,109.27 630.5,110.03 626.5,110.79 622.5,111.56 618.5,112.33 614.5,113.11 610.5,113.89 606.5,114.68 602.5,115.47 598.5,116.26 594.5,117.06 590.5,117.86 586.5,118.67 582.5,119.49 578.5,120.31 574.5,121.13 570.5,121.96 566.5,122.79 562.5,123.63 558.5,124.48 554.5,125.33 550.5,126.19 546.5,127.05 542.5,127.92 538.5,128.79 534.5,129.67 530.5,130.55 526.5,131.44 522.5,132.34 518.5,133.24 514.5,134.15 510.5,135.07 506.5,135.99 502.5,136.91 498.5,137.85 494.5,138.79 490.5,139.74 486.5,140.69 482.5,141.65 478.5,142.62 474.5,143.60 470.5,144.58 466.5,145.57 462.5,146.57 458.5,147.57 454.5,148.59 450.5,149.61 446.5,150.64 442.5,151.67 438.5,152.72 434.5,153.77 430.5,154.83 426.5,155.90 422.5,156.98 418.5,158.07 414.5,159.16 410.5,160.27 406.5,161.38 402.5,162.51 398.5,163.64 394.5,164.79 390.5,165.94 386.5,167.10 382.5,168.28 378.5,169.46 374.5,170.66 370.5,171.86 366.5,173.08 362.5,174.31 358.5,175.55 354.5,176.80 350.5,178.06 346.5,179.34 342.5,180.63 338.5,181.93 334.5,183.24 330.5,184.57 326.5,185.91 322.5,187.26 318.5,188.63 314.5,190.01 310.5,191.40 306.5,192.82 302.5,194.24 298.5,195.68 294.5,197.14 290.5,198.61 286.5,200.10 282.5,201.61 278.5,203.14 274.5,204.68 270.5,206.24 266.5,207.82 262.5,209.41 258.5,211.03 254.5,212.67 250.5,214.33 246.5,216.00 242.5,217.70 238.5,219.43 234.5,221.17 230.5,222.94 226.5,224.73 222.5,226.55 218.5,228.39 214.5,230.25 210.5,232.15 206.5,234.07 202.5,236.02 198.5,238.00 194.5,240.01 190.5,242.05 186.5,244.12 182.5,246.22 178.5,248.36 174.5,250.53 170.5,252.74 166.5,254.99 162.5,257.27 158.5,259.60 154.5,261.96 150.5,264.37 146.5,266.83 142.5,269.33 138.5,271.87 134.5,274.47 130.5,277.12 126.5,279.82 122.5,282.58 118.5,285.40 114.5,288.28 110.5,291.23 106.5,294.24 102.5,297.31 98.5,300.47 94.5,303.70 90.5,307.01 86.5,310.40 82.5,313.89 78.5,317.46 74.5,321.14 70.5,324.92 66.5,328.81 62.5,332.82 58.5,336.96 54.5,341.22 50.5,345.63 46.5,350.19 42.5,354.92 38.5,359.81 34.5,364.90 30.5,370.19 26.5,375.69 22.5,381.44"/>
<polygon fill="#699fa6" points="22.5,380.64 26.5,374.89 30.5,369.39 34.5,364.10 38.5,359.01 42.5,354.12 46.5,349.39 50.5,344.83 54.5,340.42 58.5,336.16 62.5,332.02 66.5,328.01 70.5,324.12 74.5,320.34 78.5,316.66 82.5,313.09 86.5,309.60 90.5,306.21 94.5,302.90 98.5,299.67 102.5,296.51 106.5,293.44 110.5,290.43 114.5,287.48 118.5,284.60 122.5,281.78 126.5,279.02 130.5,276.32 134.5,273.67 138.5,271.07 142.5,268.53 146.5,266.03 150.5,263.57 154.5,261.16 158.5,258.80 162.5,256.47 166.5,254.19 170.5,251.94 174.5,249.73 178.5,247.56 182.5,245.42 186.5,243.32 190.5,241.25 194.5,239.21 198.5,237.20 202.5,235.22 206.5,233.27 210.5,231.35 214.5,229.45 218.5,227.59 222.5,225.75 226.5,223.93 230.5,222.14 234.5,220.37 238.5,218.63 242.5,216.90 246.5,215.20 250.5,213.53 254.5,211.87 258.5,210.23 262.5,208.61 266.5,207.02 270.5,205.44 274.5,203.88 278.5,202.34 282.5,200.81 286.5,199.30 290.5,197.81 294.5,196.34 298.5,194.88 302.5,193.44 306.5,192.02 310.5,190.60 314.5,189.21 318.5,187.83 322.5,186.46 326.5,185.11 330.5,183.77 334.5,182.44 338.5,181.13 342.5,179.83 346.5,178.54 350.5,177.26 354.5,176.00 358.5,174.75 362.5,173.51 366.5,172.28 370.5,171.06 374.5,169.86 378.5,168.66 382.5,167.48 386.5,166.30 390.5,165.14 394.5,163.99 398.5,162.84 402.5,161.71 406.5,160.58 410.5,159.47 414.5,158.36 418.5,157.27 422.5,156.18 426.5,155.10 430.5,154.03 434.5,152.97 438.5,151.92 442.5,150.87 446.5,149.84 450.5,148.81 454.5,147.79 458.5,146.77 462.5,145.77 466.5,144.77 470.5,143.78 474.5,142.80 478.5,141.82 482.5,140.85 486.5,139.89 490.5,138.94 494.5,137.99 498.5,137.05 502.5,136.11 506.5,135.19 510.5,134.27 514.5,133.35 518.5,132.44 522.5,131.54 526.5,130.64 530.5,129.75 534.5,128.87 538.5,127.99 542.5,127.12 546.5,126.25 550.5,125.39 554.5,124.53 558.5,123.68 562.5,122.83 566.5,121.99 570.5,121.16 574.5,120.33 578.5,119.51 582.5,118.69 586.5,117.87 590.5,117.06 594.5,116.26 598.5,115.46 602.5,114.67 606.5,113.88 610.5,113.09 614.5,112.31 618.5,111.53 622.5,110.76 626.5,109.99 630.5,109.23 634.5,108.47 638.5,107.72 642.5,106.97 646.5,106.22 650.5,105.48 654.5,104.75 658.5,104.01 662.5,103.28 666.5,102.56 670.5,101.84 674.5,101.12 678.5,100.41 682.5,99.70 686.5,98.99 690.5,98.29 694.5,97.59 698.5,96.89 702.5,96.20 706.5,95.52 710.5,94.83 714.5,94.15 718.5,93.47 722.5,92.80 726.5,92.13 730.5,91.46 734.5,90.80 738.5,90.14 742.5,89.48 746.5,88.83 750.5,88.18 754.5,87.53 758.5,86.89 762.5,86.24 766.5,85.61 770.5,84.97 774.5,84.34 778.5,83.71 782.5,83.08 786.5,82.46 790.5,81.84 794.5,81.22 798.5,80.61 802.5,80.00 806.5,79.39 810.5,78.78 814.5,78.18 818.5,77.58 822.5,76.98 826.5,76.39 830.5,75.79 834.5,75.20 838.5,74.62 842.5,74.03 846.5,73.45 850.5,72.87 854.5,72.29 858.5,71.72 862.5,71.15 866.5,70.58 870.5,70.01 874.5,69.44 878.5,68.88 882.5,68.32 886.5,67.76 890.5,67.21 894.5,66.66 898.5,66.10 899.7,65.94 899.7,73.30 898.5,73.46 894.5,74.01 890.5,74.56 886.5,75.12 882.5,75.68 878.5,76.24 874.5,76.80 870.5,77.36 866.5,77.93 862.5,78.50 858.5,79.07 854.5,79.65 850.5,80.22 846.5,80.80 842.5,81.39 838.5,81.97 834.5,82.56 830.5,83.15 826.5,83.74 822.5,84.34 818.5,84.93 814.5,85.53 810.5,86.14 806.5,86.74 802.5,87.35 798.5,87.96 794.5,88.58 790.5,89.20 786.5,89.82 782.5,90.44 778.5,91.07 774.5,91.69 770.5,92.33 766.5,92.96 762.5,93.60 758.5,94.24 754.5,94.89 750.5,95.53 746.5,96.18 742.5,96.84 738.5,97.49 734.5,98.15 730.5,98.82 726.5,99.49 722.5,100.16 718.5,100.83 714.5,101.51 710.5,102.19 706.5,102.87 702.5,103.56 698.5,104.25 694.5,104.94 690.5,105.64 686.5,106.35 682.5,107.05 678.5,107.76 674.5,108.47 670.5,109.19 666.5,109.91 662.5,110.64 658.5,111.37 654.5,112.10 650.5,112.84 646.5,113.58 642.5,114.33 638.5,115.08 634.5,115.83 630.5,116.59 626.5,117.35 622.5,118.12 618.5,118.89 614.5,119.66 610.5,120.45 606.5,121.23 602.5,122.02 598.5,122.82 594.5,123.61 590.5,124.42 586.5,125.23 582.5,126.04 578.5,126.86 574.5,127.69 570.5,128.52 566.5,129.35 562.5,130.19 558.5,131.03 554.5,131.89 550.5,132.74 546.5,133.60 542.5,134.47 538.5,135.34 534.5,136.22 530.5,137.11 526.5,138.00 522.5,138.89 518.5,139.80 514.5,140.71 510.5,141.62 506.5,142.54 502.5,143.47 498.5,144.40 494.5,145.35 490.5,146.29 486.5,147.25 482.5,148.21 478.5,149.18 474.5,150.15 470.5,151.14 466.5,152.13 462.5,153.12 458.5,154.13 454.5,155.14 450.5,156.16 446.5,157.19 442.5,158.23 438.5,159.27 434.5,160.33 430.5,161.39 426.5,162.46 422.5,163.54 418.5,164.62 414.5,165.72 410.5,166.82 406.5,167.94 402.5,169.06 398.5,170.20 394.5,171.34 390.5,172.49 386.5,173.66 382.5,174.83 378.5,176.02 374.5,177.21 370.5,178.42 366.5,179.64 362.5,180.86 358.5,182.10 354.5,183.35 350.5,184.62 346.5,185.89 342.5,187.18 338.5,188.48 334.5,189.79 330.5,191.12 326.5,192.46 322.5,193.81 318.5,195.18 314.5,196.56 310.5,197.96 306.5,199.37 302.5,200.80 298.5,202.24 294.5,203.70 290.5,205.17 286.5,206.66 282.5,208.17 278.5,209.69 274.5,211.23 270.5,212.79 266.5,214.37 262.5,215.97 258.5,217.59 254.5,219.22 250.5,220.88 246.5,222.56 242.5,224.26 238.5,225.98 234.5,227.73 230.5,229.49 226.5,231.29 222.5,233.10 218.5,234.94 214.5,236.81 210.5,238.70 206.5,240.63 202.5,242.57 198.5,244.55 194.5,246.56 190.5,248.60 186.5,250.67 182.5,252.78 178.5,254.91 174.5,257.09 170.5,259.30 166.5,261.54 162.5,263.83 158.5,266.15 154.5,268.52 150.5,270.93 146.5,273.38 142.5,275.88 138.5,278.43 134.5,281.03 130.5,283.68 126.5,286.38 122.5,289.14 118.5,291.96 114.5,294.84 110.5,297.78 106.5,300.79 102.5,303.87 98.5,307.02 94.5,310.25 90.5,313.56 86.5,316.96 82.5,320.44 78.5,324.02 74.5,327.70 70.5,331.48 66.5,335.37 62.5,339.38 58.5,343.51 54.5,347.78 50.5,352.19 46.5,356.75 42.5,361.47 38.5,366.37 34.5,371.45 30.5,376.74 26.5,382.25 22.5,387.99"/>
<polygon fill="#688bce" points="22.5,387.19 26.5,381.45 30.5,375.94 34.5,370.65 38.5,365.57 42.5,360.67 46.5,355.95 50.5,351.39 54.5,346.98 58.5,342.71 62.5,338.58 66.5,334.57 70.5,330.68 74.5,326.90 78.5,323.22 82.5,319.64 86.5,316.16 90.5,312.76 94.5,309.45 98.5,306.22 102.5,303.07 106.5,299.99 110.5,296.98 114.5,294.04 118.5,291.16 122.5,288.34 126.5,285.58 130.5,282.88 134.5,280.23 138.5,277.63 142.5,275.08 146.5,272.58 150.5,270.13 154.5,267.72 158.5,265.35 162.5,263.03 166.5,260.74 170.5,258.50 174.5,256.29 178.5,254.11 182.5,251.98 186.5,249.87 190.5,247.80 194.5,245.76 198.5,243.75 202.5,241.77 206.5,239.83 210.5,237.90 214.5,236.01 218.5,234.14 222.5,232.30 226.5,230.49 230.5,228.69 234.5,226.93 238.5,225.18 242.5,223.46 246.5,221.76 250.5,220.08 254.5,218.42 258.5,216.79 262.5,215.17 266.5,213.57 270.5,211.99 274.5,210.43 278.5,208.89 282.5,207.37 286.5,205.86 290.5,204.37 294.5,202.90 298.5,201.44 302.5,200.00 306.5,198.57 310.5,197.16 314.5,195.76 318.5,194.38 322.5,193.01 326.5,191.66 330.5,190.32 334.5,188.99 338.5,187.68 342.5,186.38 346.5,185.09 350.5,183.82 354.5,182.55 358.5,181.30 362.5,180.06 366.5,178.84 370.5,177.62 374.5,176.41 378.5,175.22 382.5,174.03 386.5,172.86 390.5,171.69 394.5,170.54 398.5,169.40 402.5,168.26 406.5,167.14 410.5,166.02 414.5,164.92 418.5,163.82 422.5,162.74 426.5,161.66 430.5,160.59 434.5,159.53 438.5,158.47 442.5,157.43 446.5,156.39 450.5,155.36 454.5,154.34 458.5,153.33 462.5,152.32 466.5,151.33 470.5,150.34 474.5,149.35 478.5,148.38 482.5,147.41 486.5,146.45 490.5,145.49 494.5,144.55 498.5,143.60 502.5,142.67 506.5,141.74 510.5,140.82 514.5,139.91 518.5,139.00 522.5,138.09 526.5,137.20 530.5,136.31 534.5,135.42 538.5,134.54 542.5,133.67 546.5,132.80 550.5,131.94 554.5,131.09 558.5,130.23 562.5,129.39 566.5,128.55 570.5,127.72 574.5,126.89 578.5,126.06 582.5,125.24 586.5,124.43 590.5,123.62 594.5,122.81 598.5,122.02 602.5,121.22 606.5,120.43 610.5,119.65 614.5,118.86 618.5,118.09 622.5,117.32 626.5,116.55 630.5,115.79 634.5,115.03 638.5,114.28 642.5,113.53 646.5,112.78 650.5,112.04 654.5,111.30 658.5,110.57 662.5,109.84 666.5,109.11 670.5,108.39 674.5,107.67 678.5,106.96 682.5,106.25 686.5,105.55 690.5,104.84 694.5,104.14 698.5,103.45 702.5,102.76 706.5,102.07 710.5,101.39 714.5,100.71 718.5,100.03 722.5,99.36 726.5,98.69 730.5,98.02 734.5,97.35 738.5,96.69 742.5,96.04 746.5,95.38 750.5,94.73 754.5,94.09 758.5,93.44 762.5,92.80 766.5,92.16 770.5,91.53 774.5,90.89 778.5,90.27 782.5,89.64 786.5,89.02 790.5,88.40 794.5,87.78 798.5,87.16 802.5,86.55 806.5,85.94 810.5,85.34 814.5,84.73 818.5,84.13 822.5,83.54 826.5,82.94 830.5,82.35 834.5,81.76 838.5,81.17 842.5,80.59 846.5,80.00 850.5,79.42 854.5,78.85 858.5,78.27 862.5,77.70 866.5,77.13 870.5,76.56 874.5,76.00 878.5,75.44 882.5,74.88 886.5,74.32 890.5,73.76 894.5,73.21 898.5,72.66 899.7,72.50 899.7,79.05 898.5,79.22 894.5,79.77 890.5,80.32 886.5,80.87 882.5,81.43 878.5,81.99 874.5,82.55 870.5,83.12 866.5,83.69 862.5,84.26 858.5,84.83 854.5,85.40 850.5,85.98 846.5,86.56 842.5,87.14 838.5,87.73 834.5,88.31 830.5,88.90 826.5,89.50 822.5,90.09 818.5,90.69 814.5,91.29 810.5,91.89 806.5,92.50 802.5,93.11 798.5,93.72 794.5,94.33 790.5,94.95 786.5,95.57 782.5,96.20 778.5,96.82 774.5,97.45 770.5,98.08 766.5,98.72 762.5,99.36 758.5,100.00 754.5,100.64 750.5,101.29 746.5,101.94 742.5,102.59 738.5,103.25 734.5,103.91 730.5,104.57 726.5,105.24 722.5,105.91 718.5,106.58 714.5,107.26 710.5,107.94 706.5,108.63 702.5,109.31 698.5,110.01 694.5,110.70 690.5,111.40 686.5,112.10 682.5,112.81 678.5,113.52 674.5,114.23 670.5,114.95 666.5,115.67 662.5,116.39 658.5,117.12 654.5,117.86 650.5,118.59 646.5,119.34 642.5,120.08 638.5,120.83 634.5,121.58 630.5,122.34 626.5,123.11 622.5,123.87 618.5,124.64 614.5,125.42 610.5,126.20 606.5,126.99 602.5,127.78 598.5,128.57 594.5,129.37 590.5,130.17 586.5,130.98 582.5,131.80 578.5,132.62 574.5,133.44 570.5,134.27 566.5,135.11 562.5,135.95 558.5,136.79 554.5,137.64 550.5,138.50 546.5,139.36 542.5,140.23 538.5,141.10 534.5,141.98 530.5,142.86 526.5,143.75 522.5,144.65 518.5,145.55 514.5,146.46 510.5,147.38 506.5,148.30 502.5,149.23 498.5,150.16 494.5,151.10 490.5,152.05 486.5,153.00 482.5,153.96 478.5,154.93 474.5,155.91 470.5,156.89 466.5,157.88 462.5,158.88 458.5,159.88 454.5,160.90 450.5,161.92 446.5,162.95 442.5,163.98 438.5,165.03 434.5,166.08 430.5,167.14 426.5,168.21 422.5,169.29 418.5,170.38 414.5,171.47 410.5,172.58 406.5,173.70 402.5,174.82 398.5,175.95 394.5,177.10 390.5,178.25 386.5,179.41 382.5,180.59 378.5,181.77 374.5,182.97 370.5,184.17 366.5,185.39 362.5,186.62 358.5,187.86 354.5,189.11 350.5,190.37 346.5,191.65 342.5,192.94 338.5,194.24 334.5,195.55 330.5,196.88 326.5,198.22 322.5,199.57 318.5,200.94 314.5,202.32 310.5,203.72 306.5,205.13 302.5,206.55 298.5,207.99 294.5,209.45 290.5,210.92 286.5,212.41 282.5,213.92 278.5,215.45 274.5,216.99 270.5,218.55 266.5,220.13 262.5,221.72 258.5,223.34 254.5,224.98 250.5,226.64 246.5,228.32 242.5,230.01 238.5,231.74 234.5,233.48 230.5,235.25 226.5,237.04 222.5,238.86 218.5,240.70 214.5,242.57 210.5,244.46 206.5,246.38 202.5,248.33 198.5,250.31 194.5,252.32 190.5,254.36 186.5,256.43 182.5,258.53 178.5,260.67 174.5,262.84 170.5,265.05 166.5,267.30 162.5,269.58 158.5,271.91 154.5,274.27 150.5,276.68 146.5,279.14 142.5,281.64 138.5,284.18 134.5,286.78 130.5,289.43 126.5,292.14 122.5,294.90 118.5,297.71 114.5,300.59 110.5,303.54 106.5,306.55 102.5,309.63 98.5,312.78 94.5,316.01 90.5,319.32 86.5,322.71 82.5,326.20 78.5,329.77 74.5,333.45 70.5,337.23 66.5,341.12 62.5,345.13 58.5,349.27 54.5,353.54 50.5,357.95 46.5,362.51 42.5,367.23 38.5,372.13 34.5,377.21 30.5,382.50 26.5,388.00 22.5,393.75"/>
</g>
<g stroke="#000" stroke-opacity="0.2" stroke-width="1" stroke-dasharray="3 2.1">
<line x1="145.4" x2="145.4" y1="220.82" y2="279.82" stroke-dashoffset="0.42"/>
<line x1="340.1" x2="340.1" y1="134.72" y2="193.72" stroke-dashoffset="1.02"/>
<line x1="546.3" x2="546.3" y1="80.40" y2="139.40" stroke-dashoffset="2.80"/>
<line x1="758.2" x2="758.2" y1="41.05" y2="100.05" stroke-dashoffset="4.25"/>
</g>
<polyline points="22.80,378.60 23.25,378.55 23.70,378.50 24.15,379.67 24.60,378.90 25.05,380.00 25.50,380.20 25.93,379.91 26.37,379.32 26.80,380.08 27.23,379.19 27.67,379.86 28.10,379.16 28.53,379.15 28.97,379.71 29.40,379.80 29.80,379.22 30.20,376.79 30.60,376.30 31.15,372.25 31.70,369.20 32.10,366.50 32.50,364.16 32.90,360.56 33.30,357.50 33.85,349.11 34.40,341.10 34.80,348.90 35.20,350.16 35.60,348.88 36.00,350.75 36.40,350.50 36.87,350.90 37.34,351.42 37.81,352.15 38.28,353.28 38.75,354.40 39.22,354.19 39.69,352.27 40.16,352.21 40.63,351.53 41.10,350.50 41.54,349.48 41.99,349.01 42.43,347.36 42.87,346.56 43.31,346.04 43.76,346.11 44.20,345.00 44.60,343.69 45.00,342.32 45.40,341.63 45.80,340.30 46.30,338.78 46.80,337.07 47.30,336.00 47.70,332.78 48.10,328.50 48.45,324.66 48.80,320.10 49.25,320.29 49.70,321.53 50.15,322.10 50.60,322.70 51.03,323.53 51.47,323.41 51.90,322.77 52.33,324.16 52.77,322.76 53.20,323.60 53.64,324.00 54.08,325.16 54.51,324.62 54.95,325.78 55.39,325.52 55.83,327.20 56.26,327.93 56.70,328.00 57.15,325.06 57.60,322.53 58.05,318.44 58.50,315.70 58.92,311.65 59.35,307.07 59.78,302.64 60.20,298.10 60.65,294.50 61.10,291.66 61.55,288.33 62.00,284.00 62.50,277.00 62.93,278.95 63.37,281.30 63.80,283.00 64.20,276.56 64.60,271.70 65.10,264.73 65.60,257.30 66.10,249.70 66.40,262.90 66.87,262.89 67.33,261.68 67.80,260.20 68.22,260.69 68.64,261.75 69.06,263.14 69.48,262.86 69.90,264.60 70.35,264.68 70.80,264.30 71.25,264.36 71.70,264.41 72.15,265.83 72.60,265.50 73.02,265.71 73.45,266.80 73.88,267.93 74.30,269.00 74.75,274.52 75.20,278.70 75.67,275.05 76.13,272.81 76.60,270.00 77.03,271.52 77.47,273.56 77.90,274.30 78.33,277.07 78.75,279.36 79.17,280.50 79.60,283.10 80.05,283.85 80.50,284.65 80.95,286.49 81.40,286.70 81.83,288.54 82.27,288.10 82.70,289.17 83.13,290.28 83.57,291.30 84.00,292.80 84.45,295.42 84.90,298.26 85.35,300.32 85.80,303.40 86.25,298.56 86.70,295.50 87.12,295.78 87.55,296.11 87.98,296.89 88.40,297.20 88.85,299.79 89.30,301.09 89.75,302.55 90.20,304.30 90.62,302.96 91.05,301.52 91.48,298.85 91.90,298.10 92.35,297.79 92.80,296.54 93.25,295.67 93.70,294.50 94.15,292.74 94.60,291.90 95.02,290.62 95.45,288.99 95.88,288.84 96.30,287.50 96.73,284.31 97.17,281.92 97.60,280.30 98.05,280.50 98.50,281.14 98.95,282.19 99.40,283.20 99.86,282.55 100.32,282.62 100.78,283.05 101.24,283.12 101.70,284.00 102.12,284.85 102.54,285.35 102.96,287.97 103.38,288.61 103.80,289.50 104.25,288.27 104.70,287.85 105.15,287.43 105.60,287.10 106.04,286.91 106.49,286.53 106.93,287.89 107.38,288.21 107.82,287.32 108.27,287.40 108.71,286.74 109.16,286.83 109.60,287.60 110.03,287.22 110.47,286.98 110.90,287.89 111.33,286.59 111.77,286.24 112.20,287.81 112.63,286.95 113.07,286.16 113.50,286.70 113.97,286.71 114.44,285.71 114.91,286.54 115.38,287.28 115.85,287.00 116.32,286.63 116.79,285.78 117.26,285.90 117.73,285.47 118.20,286.00 118.66,285.93 119.12,284.94 119.58,284.82 120.04,283.45 120.50,283.20 120.98,282.08 121.46,282.52 121.94,282.21 122.42,281.35 122.90,280.10 123.36,280.17 123.82,279.71 124.28,279.09 124.74,277.69 125.20,277.70 125.68,276.95 126.16,275.88 126.64,274.51 127.12,273.73 127.60,273.80 128.06,271.90 128.52,270.37 128.98,269.65 129.44,268.62 129.90,266.30 130.45,271.16 131.00,276.20 131.43,275.15 131.87,273.41 132.30,270.70 132.76,271.04 133.22,269.50 133.68,268.76 134.14,268.29 134.60,268.30 135.06,267.53 135.52,267.33 135.98,267.86 136.44,268.14 136.90,267.20 137.38,268.19 137.86,267.92 138.34,268.62 138.82,269.26 139.30,269.10 139.76,268.73 140.22,270.15 140.68,270.98 141.14,271.13 141.60,271.00 142.08,271.01 142.56,270.08 143.04,269.10 143.52,269.76 144.00,268.80 144.44,268.10 144.89,268.54 145.33,268.45 145.77,267.01 146.21,266.62 146.66,267.20 147.10,266.00 147.56,266.36 148.01,265.32 148.47,265.20 148.93,265.20 149.39,266.51 149.84,266.29 150.30,265.70 150.76,264.64 151.22,265.45 151.68,265.30 152.14,264.30 152.60,263.60 153.08,262.09 153.56,261.21 154.04,259.22 154.52,257.77 155.00,257.40 155.46,256.83 155.92,254.83 156.38,253.19 156.84,252.50 157.30,250.30 157.76,248.62 158.22,247.85 158.68,246.21 159.14,243.54 159.60,242.50 160.00,240.50 160.40,239.03 160.80,237.38 161.20,236.30 161.70,232.76 162.20,228.47 162.70,225.20 163.17,220.95 163.63,216.34 164.10,212.90 164.55,210.09 165.00,205.80 165.45,217.89 165.90,230.50 166.30,222.92 166.70,215.50 167.15,218.30 167.60,220.80 168.07,220.93 168.53,219.46 169.00,219.00 169.43,219.51 169.86,218.52 170.29,218.33 170.71,218.07 171.14,216.92 171.57,217.44 172.00,217.30 172.45,217.46 172.90,217.87 173.35,220.04 173.80,219.64 174.25,220.92 174.70,221.70 175.12,222.76 175.55,223.10 175.97,223.34 176.40,224.30 176.87,226.40 177.33,228.53 177.80,230.50 178.23,229.55 178.67,226.86 179.10,226.10 179.54,225.87 179.97,224.97 180.41,224.69 180.85,225.24 181.29,224.43 181.72,224.19 182.16,224.21 182.60,223.40 183.04,223.44 183.47,221.90 183.91,221.50 184.35,220.61 184.79,219.92 185.22,219.55 185.66,218.41 186.10,217.80 186.54,217.90 186.97,217.84 187.41,218.71 187.85,218.31 188.29,218.67 188.72,218.82 189.16,217.63 189.60,218.10 190.03,219.11 190.47,220.70 190.90,220.80 191.37,219.95 191.83,217.21 192.30,216.40 192.75,213.94 193.20,212.75 193.65,210.31 194.10,209.30 194.53,206.21 194.95,203.28 195.38,201.73 195.80,198.80 196.27,195.18 196.73,191.25 197.20,186.40 197.63,182.28 198.07,179.79 198.50,175.90 198.90,174.72 199.30,172.32 199.70,171.50 200.17,174.82 200.63,177.61 201.10,179.40 201.50,181.23 201.90,184.88 202.30,186.40 202.77,183.88 203.23,181.71 203.70,179.40 204.13,179.38 204.57,178.20 205.00,176.70 205.44,176.22 205.89,176.83 206.33,177.11 206.77,176.92 207.21,176.80 207.66,177.14 208.10,177.60 208.55,179.10 209.00,178.94 209.45,181.00 209.90,182.00 210.35,182.79 210.80,182.93 211.25,184.40 211.70,185.60 212.12,185.15 212.55,184.27 212.97,182.79 213.40,182.90 213.85,184.22 214.30,184.32 214.75,185.10 215.20,183.99 215.65,184.73 216.10,185.60 216.53,186.07 216.95,188.70 217.38,189.09 217.80,190.80 218.25,191.48 218.70,193.50 219.15,192.49 219.60,192.49 220.05,191.45 220.50,190.00 221.00,189.83 221.50,189.90 222.00,190.80 222.42,191.43 222.84,190.69 223.26,190.80 223.68,189.58 224.10,190.20 224.60,187.84 225.10,187.41 225.60,185.50 226.00,184.33 226.40,182.66 226.80,182.40 227.30,183.84 227.80,183.94 228.30,184.89 228.80,185.00 229.28,183.89 229.76,184.92 230.24,183.14 230.72,184.21 231.20,183.20 231.68,183.22 232.17,183.11 232.65,183.60 233.13,184.37 233.62,183.28 234.10,183.80 234.58,183.52 235.07,184.62 235.55,184.48 236.03,184.63 236.52,185.11 237.00,186.10 237.40,186.29 237.80,187.56 238.20,189.10 238.66,188.86 239.12,188.95 239.58,189.87 240.04,189.12 240.50,189.60 240.98,190.20 241.46,190.22 241.94,191.12 242.42,191.13 242.90,192.60 243.40,193.33 243.90,194.08 244.40,196.54 244.90,197.30 245.40,196.39 245.90,194.74 246.40,194.30 246.88,194.85 247.36,196.28 247.84,195.39 248.32,197.27 248.80,197.30 249.30,196.15 249.80,195.24 250.30,194.83 250.80,193.20 251.35,194.31 251.90,195.80 252.32,195.51 252.74,195.54 253.16,195.77 253.58,194.32 254.00,194.30 254.48,195.50 254.96,195.87 255.44,196.34 255.92,196.53 256.40,197.30 256.82,197.45 257.25,197.35 257.68,197.91 258.10,199.00 258.50,199.59 258.90,202.17 259.30,203.10 259.70,206.21 260.10,210.20 260.60,206.34 261.10,203.70 261.53,203.40 261.95,205.21 262.38,205.72 262.80,205.50 263.28,205.33 263.76,204.15 264.24,203.60 264.72,203.21 265.20,203.10 265.68,202.54 266.17,201.52 266.65,201.55 267.13,200.74 267.62,201.51 268.10,200.20 268.58,201.63 269.06,201.44 269.54,201.48 270.02,203.36 270.50,203.10 270.98,203.16 271.47,203.64 271.95,203.40 272.43,204.49 272.92,205.05 273.40,205.50 273.88,205.30 274.37,204.56 274.85,204.91 275.33,203.81 275.82,204.08 276.30,204.30 276.77,203.68 277.24,204.36 277.71,203.84 278.18,203.92 278.65,204.55 279.12,204.54 279.59,205.29 280.06,205.31 280.53,205.83 281.00,205.50 281.43,205.44 281.86,205.20 282.29,205.15 282.71,203.93 283.14,203.47 283.57,204.32 284.00,203.10 284.46,201.77 284.92,202.10 285.38,201.26 285.84,199.48 286.30,199.60 286.74,200.43 287.18,200.76 287.61,200.50 288.05,200.92 288.49,201.29 288.93,200.30 289.36,201.22 289.80,201.40 290.28,202.35 290.76,203.88 291.24,204.77 291.72,205.75 292.20,206.10 292.66,206.12 293.11,206.54 293.57,206.03 294.02,205.91 294.48,204.95 294.93,204.46 295.39,204.51 295.84,204.78 296.30,204.90 296.74,203.96 297.18,205.05 297.61,204.33 298.05,204.23 298.49,204.00 298.93,203.88 299.36,203.31 299.80,203.10 300.28,201.17 300.76,201.56 301.24,200.43 301.72,198.95 302.20,197.90 302.65,195.91 303.10,193.80 303.50,195.45 303.90,195.75 304.30,197.90 304.80,198.03 305.30,196.85 305.80,196.23 306.30,196.70 306.76,195.22 307.22,194.99 307.68,192.99 308.14,192.89 308.60,191.40 309.05,192.06 309.50,190.99 309.95,190.59 310.40,190.60 310.82,190.74 311.24,191.29 311.66,191.62 312.08,191.53 312.50,191.50 312.94,192.30 313.38,191.82 313.82,192.49 314.26,193.22 314.70,194.20 315.16,194.72 315.62,194.01 316.08,194.56 316.54,193.64 317.00,194.60 317.48,193.21 317.96,192.98 318.44,193.11 318.92,192.55 319.40,191.60 319.86,192.12 320.32,191.62 320.78,192.23 321.24,192.34 321.70,192.60 322.15,192.45 322.60,191.74 323.05,193.05 323.50,191.71 323.95,193.02 324.40,192.86 324.85,191.12 325.30,191.90 325.74,191.68 326.18,192.18 326.61,192.29 327.05,191.21 327.49,190.73 327.93,190.48 328.36,191.65 328.80,190.70 329.24,190.23 329.68,190.95 330.11,190.21 330.55,190.94 330.99,191.76 331.43,190.34 331.86,191.63 332.30,191.10 332.76,190.06 333.22,189.68 333.68,188.29 334.14,186.38 334.60,185.80 335.04,185.46 335.48,183.66 335.92,181.76 336.36,180.67 336.80,180.50 337.20,181.94 337.60,183.40 338.06,183.09 338.52,182.60 338.98,182.09 339.44,182.24 339.90,182.30 340.38,182.25 340.86,183.47 341.34,182.24 341.82,183.87 342.30,183.70 342.70,185.21 343.10,184.82 343.50,186.40 343.93,186.87 344.35,186.18 344.77,186.22 345.20,185.20 345.64,184.67 346.07,184.67 346.51,184.56 346.95,185.50 347.39,184.61 347.82,184.05 348.26,184.02 348.70,184.00 349.15,183.65 349.60,183.29 350.05,183.43 350.50,184.80 350.95,183.86 351.40,185.08 351.85,183.90 352.30,184.40 352.78,183.71 353.27,183.89 353.75,183.04 354.23,183.11 354.72,183.89 355.20,182.80 355.65,183.07 356.10,182.51 356.55,181.76 357.00,181.10 357.44,181.77 357.88,181.74 358.31,180.96 358.75,181.20 359.19,179.91 359.62,181.07 360.06,180.49 360.50,180.50 360.94,180.73 361.38,180.31 361.81,179.44 362.25,178.79 362.69,180.14 363.12,178.48 363.56,178.87 364.00,178.70 364.42,177.14 364.84,175.78 365.26,175.29 365.68,174.44 366.10,172.30 366.50,173.70 366.90,176.25 367.30,177.80 367.73,176.91 368.17,176.84 368.60,176.01 369.03,175.07 369.47,174.52 369.90,174.60 370.36,173.61 370.82,174.41 371.28,173.21 371.74,172.26 372.20,172.30 372.63,172.45 373.07,172.03 373.50,170.46 373.93,169.32 374.37,168.83 374.80,168.80 375.25,169.03 375.70,170.45 376.15,170.96 376.60,172.20 377.05,173.20 377.50,174.60 377.96,173.91 378.42,173.66 378.88,172.59 379.34,171.16 379.80,170.50 380.28,169.88 380.76,169.62 381.24,168.90 381.72,168.37 382.20,168.20 382.62,166.24 383.05,165.45 383.47,165.52 383.90,163.50 384.38,161.65 384.86,161.15 385.34,160.19 385.82,159.43 386.30,157.60 386.73,156.11 387.17,155.22 387.60,154.20 388.03,153.49 388.47,152.59 388.90,151.70 389.32,152.94 389.74,153.17 390.16,153.63 390.58,152.52 391.00,153.80 391.46,153.02 391.92,154.30 392.38,154.69 392.84,153.99 393.30,154.10 393.77,155.82 394.23,156.33 394.70,158.80 395.15,157.00 395.60,156.37 396.05,154.59 396.50,152.40 397.00,151.64 397.50,150.45 398.00,148.20 398.40,146.28 398.80,144.56 399.20,143.80 399.70,142.43 400.20,142.34 400.70,141.88 401.20,140.80 401.65,141.79 402.10,141.20 402.60,143.73 403.10,145.73 403.60,147.60 404.06,147.12 404.52,145.60 404.98,144.81 405.44,142.93 405.90,142.80 406.40,142.21 406.90,140.12 407.40,139.50 407.95,138.71 408.50,136.40 408.95,136.06 409.40,134.85 409.85,133.93 410.30,134.00 410.85,132.10 411.40,131.10 411.90,133.40 412.40,135.20 412.87,133.22 413.33,129.84 413.80,128.20 414.27,125.06 414.73,123.51 415.20,121.10 415.65,117.75 416.10,114.10 416.60,112.45 417.10,111.20 417.57,112.84 418.03,115.65 418.50,117.60 419.00,115.75 419.50,115.31 420.00,114.70 420.47,116.40 420.93,119.06 421.40,120.00 421.85,121.14 422.30,122.44 422.75,122.58 423.20,123.50 423.62,125.22 424.05,127.44 424.47,130.93 424.90,132.30 425.30,130.10 425.70,126.82 426.10,124.60 426.60,123.16 427.10,123.45 427.60,123.19 428.10,122.30 428.52,123.10 428.94,123.74 429.36,125.42 429.78,126.83 430.20,127.00 430.68,127.49 431.17,128.13 431.65,129.66 432.13,130.79 432.62,132.25 433.10,132.90 433.58,131.30 434.06,131.31 434.54,130.15 435.02,128.67 435.50,127.60 436.00,126.62 436.50,127.55 437.00,125.91 437.50,125.80 437.95,126.96 438.40,126.48 438.85,127.05 439.30,128.60 439.75,128.35 440.20,129.30 440.66,130.59 441.12,130.25 441.58,130.18 442.04,130.72 442.50,131.70 442.93,132.05 443.36,133.00 443.79,134.01 444.21,133.06 444.64,134.01 445.07,134.18 445.50,135.20 445.96,135.71 446.42,133.88 446.88,133.37 447.34,133.05 447.80,133.50 448.22,132.37 448.64,132.34 449.06,131.37 449.48,130.16 449.90,128.80 450.33,130.73 450.77,131.64 451.20,131.59 451.63,132.37 452.07,134.75 452.50,135.00 452.93,134.89 453.37,133.06 453.80,133.65 454.23,132.58 454.67,132.02 455.10,131.70 455.60,132.36 456.10,133.04 456.60,134.60 457.06,133.64 457.51,134.07 457.97,134.13 458.42,135.15 458.88,133.59 459.33,135.04 459.79,133.61 460.24,133.81 460.70,134.00 461.13,134.72 461.56,134.87 461.99,134.31 462.41,133.76 462.84,134.67 463.27,134.63 463.70,135.00 464.12,135.68 464.54,134.29 464.96,134.52 465.38,135.39 465.80,134.60 466.30,136.10 466.80,139.30 467.20,140.91 467.60,143.39 468.00,144.60 468.50,145.48 469.00,144.57 469.50,145.80 469.90,146.13 470.30,147.35 470.70,149.30 471.10,148.29 471.50,145.33 471.90,144.00 472.36,144.69 472.82,145.20 473.28,144.43 473.74,144.55 474.20,145.20 474.64,146.39 475.07,146.14 475.51,145.86 475.95,147.04 476.39,146.68 476.82,146.97 477.26,146.84 477.70,148.10 478.15,148.20 478.60,148.12 479.05,147.25 479.50,147.45 479.95,145.43 480.40,145.45 480.85,145.52 481.30,145.20 481.76,145.96 482.21,145.88 482.67,144.80 483.12,144.49 483.58,144.74 484.03,144.79 484.49,145.50 484.94,144.10 485.40,144.60 485.80,143.84 486.20,142.43 486.60,141.28 487.00,139.40 487.44,139.68 487.88,139.17 488.31,138.45 488.75,138.23 489.19,138.09 489.62,138.63 490.06,137.15 490.50,137.70 491.00,135.33 491.50,134.51 492.00,131.77 492.50,130.40 492.96,129.44 493.43,129.21 493.89,129.97 494.35,129.39 494.81,130.39 495.27,130.04 495.74,130.05 496.20,129.00 496.62,127.28 497.05,125.65 497.47,124.37 497.90,123.80 498.37,122.40 498.83,121.38 499.30,119.60 499.80,120.50 500.30,121.12 500.80,122.60 501.25,123.18 501.70,124.27 502.15,125.09 502.60,125.50 503.07,125.75 503.53,125.72 504.00,124.90 504.50,124.03 505.00,121.88 505.50,121.40 505.95,122.61 506.40,122.23 506.85,123.32 507.30,123.80 507.78,123.65 508.27,124.40 508.75,123.51 509.23,123.68 509.72,123.76 510.20,124.30 510.68,124.52 511.16,126.67 511.64,126.96 512.12,127.35 512.60,128.50 513.06,128.47 513.51,129.70 513.97,128.98 514.43,128.65 514.89,129.84 515.34,129.72 515.80,129.60 516.22,129.86 516.64,127.64 517.06,127.69 517.48,127.69 517.90,126.50 518.33,127.46 518.75,127.95 519.17,126.72 519.60,127.90 520.08,128.35 520.56,128.85 521.04,129.80 521.52,132.03 522.00,132.00 522.44,132.22 522.88,132.92 523.31,132.00 523.75,132.96 524.19,132.28 524.62,132.02 525.06,133.02 525.50,132.60 525.98,132.90 526.47,130.89 526.95,131.27 527.43,130.82 527.92,129.59 528.40,129.60 528.83,128.78 529.26,127.78 529.69,127.31 530.11,126.82 530.54,126.85 530.97,126.36 531.40,125.50 531.90,124.67 532.40,124.02 532.90,124.29 533.40,124.30 533.86,125.14 534.31,124.76 534.77,125.50 535.23,125.82 535.69,127.40 536.14,127.47 536.60,127.90 537.10,132.66 537.60,139.00 538.07,137.12 538.53,136.48 539.00,135.50 539.46,134.89 539.92,134.35 540.38,132.66 540.84,132.09 541.30,132.00 541.75,132.50 542.20,132.14 542.65,132.06 543.10,132.60 543.55,130.93 544.00,130.77 544.45,128.29 544.90,127.30 545.33,127.04 545.75,126.29 546.17,126.02 546.60,125.80 547.03,126.46 547.46,126.69 547.89,125.55 548.31,125.25 548.74,126.21 549.17,125.27 549.60,125.80 550.08,125.03 550.57,126.76 551.05,126.01 551.53,126.84 552.02,126.21 552.50,126.50 552.98,127.22 553.47,126.50 553.95,125.99 554.43,125.76 554.92,126.76 555.40,126.70 555.82,126.37 556.24,126.28 556.66,124.22 557.08,124.60 557.50,123.80 558.00,122.89 558.50,122.46 559.00,121.14 559.50,121.10 559.93,120.81 560.36,121.34 560.79,122.17 561.21,120.80 561.64,121.58 562.07,122.25 562.50,121.80 562.96,123.04 563.42,122.06 563.88,122.33 564.34,124.20 564.80,123.80 565.28,124.56 565.77,123.57 566.25,122.70 566.73,124.17 567.22,123.10 567.70,123.20 568.18,123.33 568.66,122.22 569.14,121.98 569.62,120.19 570.10,120.20 570.56,119.77 571.02,117.82 571.48,117.21 571.94,117.06 572.40,115.50 572.88,115.27 573.36,113.29 573.84,112.53 574.32,112.04 574.80,111.40 575.28,111.43 575.77,111.19 576.25,110.72 576.73,110.94 577.22,111.80 577.70,111.40 578.20,110.25 578.70,106.84 579.20,105.80 579.60,104.61 580.00,103.66 580.40,101.07 580.80,100.60 581.20,99.61 581.60,96.71 582.00,95.80 582.42,96.86 582.84,97.65 583.26,98.67 583.68,98.97 584.10,100.20 584.52,98.88 584.95,98.00 585.38,96.54 585.80,95.50 586.25,94.46 586.70,92.75 587.15,91.41 587.60,90.20 588.00,88.78 588.40,89.28 588.80,88.50 589.20,89.45 589.60,89.96 590.00,91.40 590.42,90.70 590.85,89.55 591.28,87.80 591.70,86.70 592.15,86.42 592.60,87.25 593.05,86.89 593.50,87.90 593.93,86.98 594.37,87.28 594.80,86.42 595.23,86.80 595.67,86.67 596.10,86.40 596.60,86.74 597.10,88.98 597.60,89.90 598.02,88.55 598.45,89.12 598.88,88.60 599.30,87.50 599.80,89.22 600.30,90.10 600.80,92.60 601.35,94.96 601.90,97.30 602.35,96.95 602.80,97.84 603.25,96.25 603.70,97.41 604.15,97.53 604.60,96.50 605.05,97.54 605.50,98.32 605.95,97.82 606.40,99.00 606.83,99.74 607.25,98.74 607.67,99.45 608.10,98.50 608.60,99.82 609.10,99.05 609.60,100.74 610.10,100.80 610.50,100.40 610.90,97.67 611.30,97.01 611.70,96.10 612.16,95.74 612.62,93.85 613.08,94.35 613.54,92.41 614.00,92.00 614.48,92.27 614.97,90.76 615.45,91.10 615.93,91.56 616.42,89.97 616.90,90.20 617.35,90.37 617.80,91.41 618.25,91.67 618.70,92.60 619.15,92.19 619.60,92.88 620.05,93.27 620.50,94.30 620.92,93.64 621.35,91.72 621.78,90.66 622.20,88.50 622.65,87.08 623.10,87.36 623.55,85.33 624.00,85.20 624.47,85.56 624.93,86.05 625.40,86.10 625.90,85.38 626.40,85.84 626.90,84.70 627.35,85.30 627.80,85.84 628.25,86.89 628.70,86.70 629.16,86.69 629.62,88.99 630.08,89.03 630.54,89.31 631.00,90.20 631.43,90.79 631.86,89.89 632.29,91.25 632.71,90.57 633.14,90.23 633.57,91.02 634.00,90.60 634.42,91.15 634.85,91.32 635.28,92.99 635.70,93.20 636.12,93.27 636.54,95.54 636.96,95.40 637.38,96.97 637.80,97.60 638.27,97.87 638.73,96.55 639.20,95.80 639.60,95.43 640.00,94.13 640.40,93.80 640.88,93.30 641.36,93.76 641.84,94.37 642.32,95.61 642.80,95.80 643.26,95.50 643.72,95.46 644.18,95.97 644.64,94.42 645.10,94.90 645.58,93.83 646.06,94.02 646.54,92.30 647.02,91.68 647.50,92.00 647.96,92.26 648.42,92.33 648.88,93.30 649.34,93.58 649.80,94.60 650.28,95.00 650.77,95.26 651.25,94.82 651.73,95.82 652.22,95.80 652.70,96.10 653.10,97.14 653.50,100.29 653.90,101.20 654.36,100.69 654.83,100.47 655.29,100.32 655.75,101.25 656.21,101.62 656.67,101.41 657.14,100.67 657.60,100.80 658.15,102.58 658.70,105.20 659.25,106.72 659.80,110.00 660.28,110.16 660.77,109.91 661.25,109.43 661.73,109.86 662.22,109.40 662.70,109.40 663.16,109.71 663.62,108.86 664.08,107.51 664.54,108.21 665.00,107.00 665.43,106.03 665.87,106.76 666.30,106.38 666.73,105.93 667.17,105.46 667.60,106.10 668.08,107.43 668.55,106.87 669.02,108.67 669.50,109.40 669.92,110.26 670.33,108.89 670.75,109.06 671.17,109.86 671.58,109.75 672.00,109.80 672.48,110.25 672.96,110.76 673.44,109.81 673.92,110.26 674.40,110.80 674.86,110.32 675.32,109.75 675.78,111.14 676.24,110.83 676.70,110.20 677.18,110.45 677.67,109.04 678.15,110.42 678.63,110.11 679.12,109.47 679.60,109.40 680.00,111.47 680.40,112.58 680.80,114.30 681.23,113.72 681.66,113.42 682.09,113.56 682.51,113.13 682.94,113.58 683.37,114.24 683.80,113.70 684.26,113.93 684.72,114.08 685.18,113.72 685.64,112.80 686.10,113.10 686.58,113.25 687.07,113.08 687.55,113.77 688.03,113.34 688.52,112.93 689.00,113.40 689.45,112.56 689.90,112.04 690.35,109.59 690.80,109.00 691.25,109.11 691.70,106.98 692.15,106.84 692.60,106.70 693.04,106.15 693.48,106.99 693.91,107.28 694.35,106.84 694.79,106.01 695.23,106.93 695.66,105.87 696.10,106.10 696.56,106.15 697.02,107.87 697.48,107.90 697.94,108.53 698.40,108.70 698.80,107.26 699.20,106.10 699.60,103.50 700.05,103.15 700.50,103.51 700.95,102.96 701.40,102.30 701.88,102.79 702.37,101.89 702.85,102.25 703.33,101.83 703.82,101.20 704.30,101.40 704.78,101.16 705.27,102.19 705.75,101.49 706.23,103.27 706.72,102.18 707.20,103.10 707.63,102.31 708.06,102.51 708.49,104.04 708.91,103.05 709.34,102.74 709.77,102.59 710.20,103.50 710.62,102.91 711.03,104.31 711.45,104.44 711.87,104.79 712.28,105.09 712.70,104.90 713.10,102.89 713.50,102.60 713.90,101.20 714.35,100.89 714.80,101.64 715.25,101.58 715.70,101.64 716.15,100.09 716.60,100.80 717.03,101.58 717.46,101.77 717.89,101.94 718.31,100.55 718.74,100.84 719.17,100.79 719.60,101.60 720.06,100.90 720.52,102.51 720.98,102.58 721.44,102.40 721.90,102.30 722.35,103.89 722.80,104.30 723.23,104.54 723.67,103.92 724.10,103.58 724.53,103.58 724.97,104.76 725.40,104.30 725.88,103.64 726.37,103.71 726.85,103.76 727.33,102.90 727.82,103.20 728.30,103.50 728.73,102.98 729.16,103.63 729.59,102.88 730.01,102.66 730.44,103.69 730.87,102.74 731.30,102.60 731.70,102.03 732.10,100.41 732.50,99.00 732.96,97.82 733.42,98.16 733.88,97.87 734.34,98.13 734.80,97.30 735.28,96.72 735.76,97.07 736.24,96.47 736.72,95.59 737.20,95.80 737.62,95.85 738.05,93.86 738.48,94.58 738.90,93.40 739.33,92.81 739.76,92.50 740.19,92.86 740.61,93.87 741.04,94.26 741.47,92.51 741.90,93.40 742.30,93.31 742.70,93.23 743.10,93.71 743.50,93.10 743.95,93.13 744.40,94.29 744.85,94.62 745.30,95.50 745.72,95.56 746.14,93.99 746.56,94.68 746.98,92.95 747.40,92.80 747.82,91.63 748.24,91.84 748.66,90.82 749.08,89.46 749.50,89.50 750.00,89.00 750.50,88.00 750.90,85.91 751.30,85.85 751.70,84.00 752.15,84.15 752.60,84.12 753.05,83.63 753.50,83.20 753.98,83.07 754.47,83.29 754.95,83.41 755.43,84.44 755.92,83.12 756.40,84.00 756.88,84.94 757.36,83.63 757.84,84.19 758.32,84.53 758.80,85.20 759.26,86.16 759.72,85.68 760.18,85.70 760.64,86.85 761.10,86.40 761.58,85.34 762.06,85.17 762.54,84.72 763.02,84.54 763.50,83.50 763.98,84.04 764.47,83.93 764.95,83.48 765.43,83.52 765.92,83.30 766.40,84.00 766.88,85.10 767.36,85.25 767.84,85.88 768.32,85.33 768.80,86.40 769.30,86.59 769.80,87.49 770.30,87.30 770.80,86.69 771.30,85.13 771.80,84.98 772.30,84.30 772.80,85.94 773.30,85.73 773.80,86.59 774.30,88.10 774.76,87.28 775.22,87.55 775.68,87.34 776.14,85.64 776.60,85.80 777.08,85.64 777.56,86.27 778.04,86.87 778.52,87.68 779.00,88.10 779.45,87.01 779.90,86.82 780.35,86.09 780.80,87.02 781.25,86.10 781.70,85.20 782.20,84.63 782.70,86.33 783.20,84.93 783.70,85.80 784.12,85.23 784.54,85.95 784.96,85.25 785.38,84.78 785.80,84.00 786.22,83.61 786.65,82.90 787.08,83.42 787.50,82.90 787.90,80.99 788.30,79.97 788.70,79.30 789.15,78.37 789.60,77.01 790.05,76.94 790.50,76.40 790.98,76.72 791.47,76.35 791.95,75.80 792.43,75.84 792.92,75.33 793.40,75.20 793.88,74.86 794.37,75.99 794.85,75.93 795.33,76.83 795.82,77.43 796.30,77.00 796.75,76.61 797.20,76.61 797.65,76.66 798.10,75.81 798.55,75.20 799.00,75.82 799.45,75.85 799.90,74.90 800.36,75.69 800.82,75.86 801.28,76.43 801.74,76.42 802.20,76.40 802.68,77.13 803.16,77.28 803.64,77.50 804.12,78.55 804.60,78.80 805.02,78.45 805.45,79.41 805.88,80.43 806.30,80.30 806.78,80.48 807.26,80.13 807.74,79.25 808.22,79.36 808.70,79.30 809.12,79.59 809.55,80.27 809.98,80.26 810.40,80.80 810.87,80.42 811.33,80.17 811.80,78.70 812.22,77.60 812.65,77.93 813.08,77.63 813.50,76.60 813.90,76.05 814.30,75.88 814.70,76.40 815.10,75.20 815.52,74.12 815.95,74.78 816.38,73.84 816.80,74.20 817.24,74.81 817.68,75.19 818.12,74.53 818.56,73.88 819.00,74.70 819.43,74.85 819.87,74.81 820.30,75.14 820.73,74.79 821.17,75.03 821.60,74.80 822.02,75.07 822.45,74.19 822.88,73.66 823.30,73.50 823.77,73.91 824.25,72.18 824.73,72.63 825.20,71.90 825.62,71.91 826.04,72.77 826.46,71.82 826.88,73.57 827.30,72.90 827.75,72.44 828.20,71.70 828.65,71.89 829.10,72.10 829.57,72.25 830.03,71.89 830.50,72.95 830.97,73.29 831.43,74.12 831.90,74.10 832.35,73.62 832.80,73.24 833.25,72.95 833.70,73.67 834.15,73.81 834.60,72.80 835.08,72.65 835.56,71.89 836.04,72.74 836.52,71.81 837.00,71.80 837.48,71.98 837.95,72.53 838.42,74.40 838.90,74.60 839.33,74.79 839.77,74.11 840.20,73.50 840.66,73.76 841.12,74.25 841.58,73.97 842.04,75.61 842.50,75.10 842.97,76.07 843.43,77.82 843.90,78.80 844.36,79.25 844.82,79.13 845.28,78.38 845.74,77.95 846.20,78.20 846.70,78.54 847.20,78.03 847.70,79.55 848.20,79.20 848.62,78.78 849.04,79.51 849.46,78.30 849.88,78.34 850.30,78.40 850.70,77.48 851.10,77.32 851.50,76.41 851.90,76.50 852.32,75.98 852.74,77.66 853.16,77.25 853.58,77.56 854.00,78.40 854.40,80.29 854.80,82.90 855.20,84.70 855.62,84.60 856.04,84.45 856.46,84.77 856.88,84.75 857.30,84.40 857.80,83.95 858.30,84.77 858.80,84.44 859.30,83.60 859.72,82.66 860.14,83.91 860.56,83.91 860.98,83.55 861.40,82.90 861.80,82.59 862.20,84.16 862.60,83.90" fill="none" stroke="#0d0d0d" stroke-width="1.9" stroke-linejoin="round" stroke-linecap="round"/>
<line x1="22.5" x2="976.9" y1="415.0" y2="415.0" stroke="#858585" stroke-width="1.75"/>
<line x1="976.0" x2="976.0" y1="0" y2="415.9" stroke="#858585" stroke-width="1.75"/>
<g font-family="'DejaVu Sans','Liberation Sans',sans-serif" font-size="10.35" fill="#2f2f2f" stroke="#2f2f2f" stroke-width="0.22">
<text x="96.5" y="427.9" text-anchor="middle">2012</text>
<text x="204.1" y="427.9" text-anchor="middle">2014</text>
<text x="311.8" y="427.9" text-anchor="middle">2016</text>
<text x="419.4" y="427.9" text-anchor="middle">2018</text>
<text x="527.1" y="427.9" text-anchor="middle">2020</text>
<text x="634.7" y="427.9" text-anchor="middle">2022</text>
<text x="742.3" y="427.9" text-anchor="middle">2024</text>
<text x="850.0" y="427.9" text-anchor="middle">2026</text>
<text x="957.6" y="427.9" text-anchor="middle">2028</text>
<text x="978.4" y="79.4">$100k</text>
<text x="978.4" y="128.6">$10k</text>
<text x="978.4" y="177.8">$1k</text>
<text x="978.4" y="226.9">$100</text>
<text x="978.4" y="325.3">$1</text>
</g>
<text font-family="'DejaVu Sans','Liberation Sans',sans-serif" font-size="11.5" fill="#2f2f2f" stroke="#2f2f2f" stroke-width="0.25" text-anchor="middle" transform="translate(1018.2,207.1) rotate(-90) scale(1.075,1)">BTC Price (USD)</text>
<g font-family="'DejaVu Sans','Liberation Sans',sans-serif" font-size="10.75" fill="#2f2f2f" stroke="#2f2f2f" stroke-width="0.25">
<line x1="26.8" x2="52.400000000000006" y1="469.0" y2="469.0" stroke="#b5b5b5" stroke-width="1" stroke-dasharray="3 2.1"/>
<text transform="translate(57.1,473.5) scale(1.0334,1)">Halving Dates</text>
<line x1="210.8" x2="236.4" y1="469.0" y2="469.0" stroke="#222" stroke-width="1.7"/>
<text transform="translate(241.1,473.5) scale(1.0642,1)">BTC Price</text>
<rect x="394.9" y="466.7" width="25.6" height="5.6" fill="#bd382c" stroke="none"/>
<text transform="translate(425.2,473.5) scale(1.0284,1)">Maximum bubble territory</text>
<rect x="578.9" y="466.7" width="25.6" height="5.6" fill="#cc5d3c" stroke="none"/>
<text transform="translate(609.2,473.5) scale(1.0380,1)">Sell. Seriously, sell!</text>
<rect x="762.9" y="466.7" width="25.6" height="5.6" fill="#e28f56" stroke="none"/>
<text transform="translate(793.2,473.5) scale(1.0323,1)">FOMO intensifies</text>
<rect x="26.8" y="484.2" width="25.6" height="5.6" fill="#edb66e" stroke="none"/>
<text transform="translate(57.1,491.0) scale(1.0669,1)">Is this a bubble?</text>
<rect x="210.8" y="484.2" width="25.6" height="5.6" fill="#fbe98e" stroke="none"/>
<text transform="translate(241.1,491.0) scale(1.0451,1)">HODL</text>
<rect x="394.9" y="484.2" width="25.6" height="5.6" fill="#bcd98e" stroke="none"/>
<text transform="translate(425.2,491.0) scale(1.0152,1)">Still cheap</text>
<rect x="578.9" y="484.2" width="25.6" height="5.6" fill="#84c38b" stroke="none"/>
<text transform="translate(609.2,491.0) scale(1.0092,1)">Accumulate</text>
<rect x="762.9" y="484.2" width="25.6" height="5.6" fill="#699fa6" stroke="none"/>
<text transform="translate(793.2,491.0) scale(1.0977,1)">BUY!</text>
<rect x="26.8" y="501.5" width="25.6" height="5.6" fill="#688bce" stroke="none"/>
<text transform="translate(57.1,508.3) scale(1.0738,1)">Fire sale!</text>
</g>
</svg>
</body>
</html>
